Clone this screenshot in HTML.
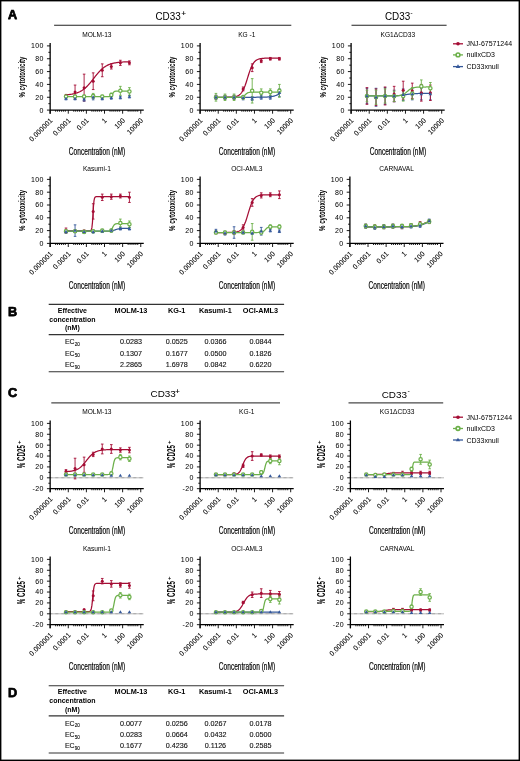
<!DOCTYPE html>
<html><head><meta charset="utf-8"><style>
html,body{margin:0;padding:0;background:#fff;width:520px;height:761px;overflow:hidden}
svg{display:block;will-change:transform}
text{font-family:"Liberation Sans",sans-serif}
</style></head><body>
<svg width="520" height="761" viewBox="0 0 520 761">
<rect x="0" y="0" width="520" height="761" fill="#fff"/>
<text transform="translate(96.85,37.2) scale(0.86,1)" font-size="7.7" text-anchor="middle" font-family="Liberation Sans, sans-serif">MOLM-13</text>
<text transform="translate(25.05,77) rotate(-90)" x="0" y="0" font-size="9.1" font-weight="bold" text-anchor="middle" textLength="41" lengthAdjust="spacingAndGlyphs" font-family="Liberation Sans, sans-serif">% cytotoxicity</text>
<path d="M50.15,42.9V113.7M49.55,110.1H143.75" stroke="#000" stroke-width="1.3" fill="none"/>
<text x="43.95" y="112.5" font-size="7" letter-spacing="0.45" text-anchor="end" stroke="#000" stroke-width="0.03" font-family="Liberation Sans, sans-serif">0</text>
<text x="43.95" y="99.66" font-size="7" letter-spacing="0.45" text-anchor="end" stroke="#000" stroke-width="0.03" font-family="Liberation Sans, sans-serif">20</text>
<text x="43.95" y="86.82" font-size="7" letter-spacing="0.45" text-anchor="end" stroke="#000" stroke-width="0.03" font-family="Liberation Sans, sans-serif">40</text>
<text x="43.95" y="73.98" font-size="7" letter-spacing="0.45" text-anchor="end" stroke="#000" stroke-width="0.03" font-family="Liberation Sans, sans-serif">60</text>
<text x="43.95" y="61.14" font-size="7" letter-spacing="0.45" text-anchor="end" stroke="#000" stroke-width="0.03" font-family="Liberation Sans, sans-serif">80</text>
<text x="43.95" y="48.3" font-size="7" letter-spacing="0.45" text-anchor="end" stroke="#000" stroke-width="0.03" font-family="Liberation Sans, sans-serif">100</text>
<path d="M46.95,110.1H50.15M48.35,103.68H50.15M46.95,97.26H50.15M48.35,90.84H50.15M46.95,84.42H50.15M48.35,78H50.15M46.95,71.58H50.15M48.35,65.16H50.15M46.95,58.74H50.15M48.35,52.32H50.15M46.95,45.9H50.15M50.15,110.1V113.7M55.65,110.1V111.7M57.58,110.1V111.7M59.51,110.1V111.7M61.44,110.1V111.7M63.37,110.1V111.7M65.3,110.1V111.7M68.27,110.1V113.7M73.77,110.1V111.7M75.7,110.1V111.7M77.63,110.1V111.7M79.56,110.1V111.7M81.49,110.1V111.7M83.42,110.1V111.7M86.39,110.1V113.7M91.89,110.1V111.7M93.82,110.1V111.7M95.75,110.1V111.7M97.68,110.1V111.7M99.61,110.1V111.7M101.54,110.1V111.7M104.51,110.1V113.7M110.01,110.1V111.7M111.94,110.1V111.7M113.87,110.1V111.7M115.8,110.1V111.7M117.73,110.1V111.7M119.66,110.1V111.7M122.63,110.1V113.7M128.13,110.1V111.7M130.06,110.1V111.7M131.99,110.1V111.7M133.92,110.1V111.7M135.85,110.1V111.7M137.78,110.1V111.7M140.75,110.1V113.7" stroke="#000" stroke-width="0.9" fill="none"/>
<text transform="translate(53.05,121) rotate(-45)" font-size="7.1" text-anchor="end" stroke="#000" stroke-width="0.05" font-family="Liberation Sans, sans-serif">0.000001</text>
<text transform="translate(71.17,121) rotate(-45)" font-size="7.1" text-anchor="end" stroke="#000" stroke-width="0.05" font-family="Liberation Sans, sans-serif">0.0001</text>
<text transform="translate(89.29,121) rotate(-45)" font-size="7.1" text-anchor="end" stroke="#000" stroke-width="0.05" font-family="Liberation Sans, sans-serif">0.01</text>
<text transform="translate(107.41,121) rotate(-45)" font-size="7.1" text-anchor="end" stroke="#000" stroke-width="0.05" font-family="Liberation Sans, sans-serif">1</text>
<text transform="translate(125.53,121) rotate(-45)" font-size="7.1" text-anchor="end" stroke="#000" stroke-width="0.05" font-family="Liberation Sans, sans-serif">100</text>
<text transform="translate(143.65,121) rotate(-45)" font-size="7.1" text-anchor="end" stroke="#000" stroke-width="0.05" font-family="Liberation Sans, sans-serif">10000</text>
<text x="97.05" y="155.4" font-size="10" text-anchor="middle" textLength="56.4" lengthAdjust="spacingAndGlyphs" stroke="#000" stroke-width="0.2" font-family="Liberation Sans, sans-serif">Concentration (nM)</text>
<polyline points="66,94.84 66.53,94.8 67.06,94.76 67.59,94.71 68.12,94.66 68.65,94.6 69.18,94.54 69.7,94.48 70.23,94.41 70.76,94.33 71.29,94.25 71.82,94.17 72.35,94.07 72.88,93.97 73.4,93.86 73.93,93.74 74.46,93.62 74.99,93.48 75.52,93.33 76.05,93.18 76.58,93.01 77.1,92.83 77.63,92.63 78.16,92.43 78.69,92.21 79.22,91.97 79.75,91.72 80.27,91.45 80.8,91.16 81.33,90.86 81.86,90.54 82.39,90.2 82.92,89.83 83.45,89.45 83.97,89.05 84.5,88.63 85.03,88.19 85.56,87.72 86.09,87.24 86.62,86.73 87.15,86.2 87.67,85.66 88.2,85.09 88.73,84.51 89.26,83.91 89.79,83.29 90.32,82.66 90.84,82.02 91.37,81.36 91.9,80.7 92.43,80.03 92.96,79.35 93.49,78.68 94.02,78 94.54,77.32 95.07,76.65 95.6,75.98 96.13,75.32 96.66,74.67 97.19,74.03 97.72,73.41 98.24,72.8 98.77,72.2 99.3,71.63 99.83,71.07 100.36,70.53 100.89,70.01 101.41,69.52 101.94,69.04 102.47,68.58 103,68.15 103.53,67.74 104.06,67.34 104.59,66.97 105.11,66.62 105.64,66.29 106.17,65.97 106.7,65.68 107.23,65.4 107.76,65.14 108.28,64.89 108.81,64.66 109.34,64.45 109.87,64.24 110.4,64.06 110.93,63.88 111.46,63.72 111.98,63.57 112.51,63.42 113.04,63.29 113.57,63.17 114.1,63.05 114.63,62.95 115.16,62.85 115.68,62.76 116.21,62.67 116.74,62.6 117.27,62.52 117.8,62.45 118.33,62.39 118.85,62.33 119.38,62.28 119.91,62.23 120.44,62.19 120.97,62.14 121.5,62.1 122.03,62.07 122.55,62.03 123.08,62 123.61,61.97 124.14,61.95 124.67,61.92 125.2,61.9 125.73,61.88 126.25,61.86 126.78,61.84 127.31,61.83 127.84,61.81 128.37,61.8 128.9,61.78 129.43,61.77" stroke="#a50d35" stroke-width="1.25" fill="none"/>
<path d="M75.06,85.06V99.19M73.77,85.06H76.36M73.77,99.19H76.36" stroke="#a50d35" stroke-width="0.9" fill="none"/>
<path d="M84.12,74.15V101.11M82.83,74.15H85.42M82.83,101.11H85.42" stroke="#a50d35" stroke-width="0.9" fill="none"/>
<path d="M93.19,72.86V89.56M91.89,72.86H94.48M91.89,89.56H94.48" stroke="#a50d35" stroke-width="0.9" fill="none"/>
<path d="M102.25,63.88V76.72M100.95,63.88H103.55M100.95,76.72H103.55" stroke="#a50d35" stroke-width="0.9" fill="none"/>
<path d="M111.31,63.88V69.01M110.01,63.88H112.61M110.01,69.01H112.61" stroke="#a50d35" stroke-width="0.9" fill="none"/>
<path d="M120.37,60.28V65.42M119.07,60.28H121.67M119.07,65.42H121.67" stroke="#a50d35" stroke-width="0.9" fill="none"/>
<path d="M129.43,60.92V64.77M128.12,60.92H130.73M128.12,64.77H130.73" stroke="#a50d35" stroke-width="0.9" fill="none"/>
<path d="M66,97.26V99.83M64.7,97.26H67.3M64.7,99.83H67.3" stroke="#35589a" stroke-width="0.9" fill="none"/>
<path d="M75.06,97.26V99.83M73.77,97.26H76.36M73.77,99.83H76.36" stroke="#35589a" stroke-width="0.9" fill="none"/>
<path d="M84.12,97.26V101.11M82.83,97.26H85.42M82.83,101.11H85.42" stroke="#35589a" stroke-width="0.9" fill="none"/>
<path d="M93.19,94.69V99.83M91.89,94.69H94.48M91.89,99.83H94.48" stroke="#35589a" stroke-width="0.9" fill="none"/>
<path d="M102.25,97.26V99.83M100.95,97.26H103.55M100.95,99.83H103.55" stroke="#35589a" stroke-width="0.9" fill="none"/>
<path d="M111.31,96.62V99.19M110.01,96.62H112.61M110.01,99.19H112.61" stroke="#35589a" stroke-width="0.9" fill="none"/>
<path d="M120.37,96.3V98.86M119.07,96.3H121.67M119.07,98.86H121.67" stroke="#35589a" stroke-width="0.9" fill="none"/>
<path d="M129.43,95.33V97.9M128.12,95.33H130.73M128.12,97.9H130.73" stroke="#35589a" stroke-width="0.9" fill="none"/>
<polyline points="66,96.62 66.53,96.62 67.06,96.62 67.59,96.62 68.12,96.62 68.65,96.62 69.18,96.62 69.7,96.62 70.23,96.62 70.76,96.62 71.29,96.62 71.82,96.62 72.35,96.62 72.88,96.62 73.4,96.62 73.93,96.62 74.46,96.62 74.99,96.62 75.52,96.62 76.05,96.62 76.58,96.62 77.1,96.62 77.63,96.62 78.16,96.62 78.69,96.62 79.22,96.62 79.75,96.62 80.27,96.62 80.8,96.62 81.33,96.62 81.86,96.62 82.39,96.62 82.92,96.62 83.45,96.62 83.97,96.62 84.5,96.62 85.03,96.62 85.56,96.62 86.09,96.62 86.62,96.62 87.15,96.62 87.67,96.62 88.2,96.62 88.73,96.62 89.26,96.62 89.79,96.62 90.32,96.62 90.84,96.62 91.37,96.62 91.9,96.62 92.43,96.62 92.96,96.62 93.49,96.62 94.02,96.62 94.54,96.62 95.07,96.62 95.6,96.62 96.13,96.62 96.66,96.62 97.19,96.62 97.72,96.62 98.24,96.62 98.77,96.62 99.3,96.62 99.83,96.62 100.36,96.62 100.89,96.62 101.41,96.62 101.94,96.62 102.47,96.62 103,96.62 103.53,96.62 104.06,96.62 104.59,96.62 105.11,96.62 105.64,96.62 106.17,96.62 106.7,96.62 107.23,96.62 107.76,96.61 108.28,96.61 108.81,96.6 109.34,96.58 109.87,96.54 110.4,96.45 110.93,96.26 111.46,95.87 111.98,95.19 112.51,94.2 113.04,93.13 113.57,92.26 114.1,91.71 114.63,91.42 115.16,91.28 115.68,91.22 116.21,91.19 116.74,91.17 117.27,91.17 117.8,91.16 118.33,91.16 118.85,91.16 119.38,91.16 119.91,91.16 120.44,91.16 120.97,91.16 121.5,91.16 122.03,91.16 122.55,91.16 123.08,91.16 123.61,91.16 124.14,91.16 124.67,91.16 125.2,91.16 125.73,91.16 126.25,91.16 126.78,91.16 127.31,91.16 127.84,91.16 128.37,91.16 128.9,91.16 129.43,91.16" stroke="#6cb04a" stroke-width="1.25" fill="none"/>
<path d="M66,95.33V97.9M64.7,95.33H67.3M64.7,97.9H67.3" stroke="#6cb04a" stroke-width="0.9" fill="none"/>
<path d="M75.06,95.33V97.9M73.77,95.33H76.36M73.77,97.9H76.36" stroke="#6cb04a" stroke-width="0.9" fill="none"/>
<path d="M84.12,95.33V97.9M82.83,95.33H85.42M82.83,97.9H85.42" stroke="#6cb04a" stroke-width="0.9" fill="none"/>
<path d="M93.19,93.41V98.54M91.89,93.41H94.48M91.89,98.54H94.48" stroke="#6cb04a" stroke-width="0.9" fill="none"/>
<path d="M102.25,95.33V97.9M100.95,95.33H103.55M100.95,97.9H103.55" stroke="#6cb04a" stroke-width="0.9" fill="none"/>
<path d="M111.31,93.09V96.94M110.01,93.09H112.61M110.01,96.94H112.61" stroke="#6cb04a" stroke-width="0.9" fill="none"/>
<path d="M120.37,86.35V95.33M119.07,86.35H121.67M119.07,95.33H121.67" stroke="#6cb04a" stroke-width="0.9" fill="none"/>
<path d="M129.43,87.63V95.33M128.12,87.63H130.73M128.12,95.33H130.73" stroke="#6cb04a" stroke-width="0.9" fill="none"/>
<circle cx="66" cy="95.33" r="1.5" fill="#a50d35"/>
<circle cx="75.06" cy="92.12" r="1.5" fill="#a50d35"/>
<circle cx="84.12" cy="87.63" r="1.5" fill="#a50d35"/>
<circle cx="93.19" cy="81.21" r="1.5" fill="#a50d35"/>
<circle cx="102.25" cy="70.3" r="1.5" fill="#a50d35"/>
<circle cx="111.31" cy="66.44" r="1.5" fill="#a50d35"/>
<circle cx="120.37" cy="62.85" r="1.5" fill="#a50d35"/>
<circle cx="129.43" cy="62.85" r="1.5" fill="#a50d35"/>
<circle cx="66" cy="96.62" r="1.65" fill="#fff" stroke="#6cb04a" stroke-width="1.25"/>
<circle cx="75.06" cy="96.62" r="1.65" fill="#fff" stroke="#6cb04a" stroke-width="1.25"/>
<circle cx="84.12" cy="96.62" r="1.65" fill="#fff" stroke="#6cb04a" stroke-width="1.25"/>
<circle cx="93.19" cy="95.98" r="1.65" fill="#fff" stroke="#6cb04a" stroke-width="1.25"/>
<circle cx="102.25" cy="96.62" r="1.65" fill="#fff" stroke="#6cb04a" stroke-width="1.25"/>
<circle cx="111.31" cy="95.01" r="1.65" fill="#fff" stroke="#6cb04a" stroke-width="1.25"/>
<circle cx="120.37" cy="90.84" r="1.65" fill="#fff" stroke="#6cb04a" stroke-width="1.25"/>
<circle cx="129.43" cy="91.48" r="1.65" fill="#fff" stroke="#6cb04a" stroke-width="1.25"/>
<path d="M66,96.64L67.8,99.74H64.2Z" fill="#35589a"/>
<path d="M75.06,96.64L76.86,99.74H73.27Z" fill="#35589a"/>
<path d="M84.12,97.29L85.92,100.39H82.33Z" fill="#35589a"/>
<path d="M93.19,95.36L94.98,98.46H91.39Z" fill="#35589a"/>
<path d="M102.25,96.64L104.05,99.74H100.45Z" fill="#35589a"/>
<path d="M111.31,96L113.11,99.1H109.51Z" fill="#35589a"/>
<path d="M120.37,95.68L122.17,98.78H118.57Z" fill="#35589a"/>
<path d="M129.43,94.72L131.23,97.82H127.63Z" fill="#35589a"/>
<text transform="translate(246.8,37.2) scale(0.86,1)" font-size="7.7" text-anchor="middle" font-family="Liberation Sans, sans-serif">KG -1</text>
<text transform="translate(175,77) rotate(-90)" x="0" y="0" font-size="9.1" font-weight="bold" text-anchor="middle" textLength="41" lengthAdjust="spacingAndGlyphs" font-family="Liberation Sans, sans-serif">% cytotoxicity</text>
<path d="M200.1,42.9V113.7M199.5,110.1H293.7" stroke="#000" stroke-width="1.3" fill="none"/>
<text x="193.9" y="112.5" font-size="7" letter-spacing="0.45" text-anchor="end" stroke="#000" stroke-width="0.03" font-family="Liberation Sans, sans-serif">0</text>
<text x="193.9" y="99.66" font-size="7" letter-spacing="0.45" text-anchor="end" stroke="#000" stroke-width="0.03" font-family="Liberation Sans, sans-serif">20</text>
<text x="193.9" y="86.82" font-size="7" letter-spacing="0.45" text-anchor="end" stroke="#000" stroke-width="0.03" font-family="Liberation Sans, sans-serif">40</text>
<text x="193.9" y="73.98" font-size="7" letter-spacing="0.45" text-anchor="end" stroke="#000" stroke-width="0.03" font-family="Liberation Sans, sans-serif">60</text>
<text x="193.9" y="61.14" font-size="7" letter-spacing="0.45" text-anchor="end" stroke="#000" stroke-width="0.03" font-family="Liberation Sans, sans-serif">80</text>
<text x="193.9" y="48.3" font-size="7" letter-spacing="0.45" text-anchor="end" stroke="#000" stroke-width="0.03" font-family="Liberation Sans, sans-serif">100</text>
<path d="M196.9,110.1H200.1M198.3,103.68H200.1M196.9,97.26H200.1M198.3,90.84H200.1M196.9,84.42H200.1M198.3,78H200.1M196.9,71.58H200.1M198.3,65.16H200.1M196.9,58.74H200.1M198.3,52.32H200.1M196.9,45.9H200.1M200.1,110.1V113.7M205.6,110.1V111.7M207.53,110.1V111.7M209.46,110.1V111.7M211.39,110.1V111.7M213.32,110.1V111.7M215.25,110.1V111.7M218.22,110.1V113.7M223.72,110.1V111.7M225.65,110.1V111.7M227.58,110.1V111.7M229.51,110.1V111.7M231.44,110.1V111.7M233.37,110.1V111.7M236.34,110.1V113.7M241.84,110.1V111.7M243.77,110.1V111.7M245.7,110.1V111.7M247.63,110.1V111.7M249.56,110.1V111.7M251.49,110.1V111.7M254.46,110.1V113.7M259.96,110.1V111.7M261.89,110.1V111.7M263.82,110.1V111.7M265.75,110.1V111.7M267.68,110.1V111.7M269.61,110.1V111.7M272.58,110.1V113.7M278.08,110.1V111.7M280.01,110.1V111.7M281.94,110.1V111.7M283.87,110.1V111.7M285.8,110.1V111.7M287.73,110.1V111.7M290.7,110.1V113.7" stroke="#000" stroke-width="0.9" fill="none"/>
<text transform="translate(203,121) rotate(-45)" font-size="7.1" text-anchor="end" stroke="#000" stroke-width="0.05" font-family="Liberation Sans, sans-serif">0.000001</text>
<text transform="translate(221.12,121) rotate(-45)" font-size="7.1" text-anchor="end" stroke="#000" stroke-width="0.05" font-family="Liberation Sans, sans-serif">0.0001</text>
<text transform="translate(239.24,121) rotate(-45)" font-size="7.1" text-anchor="end" stroke="#000" stroke-width="0.05" font-family="Liberation Sans, sans-serif">0.01</text>
<text transform="translate(257.36,121) rotate(-45)" font-size="7.1" text-anchor="end" stroke="#000" stroke-width="0.05" font-family="Liberation Sans, sans-serif">1</text>
<text transform="translate(275.48,121) rotate(-45)" font-size="7.1" text-anchor="end" stroke="#000" stroke-width="0.05" font-family="Liberation Sans, sans-serif">100</text>
<text transform="translate(293.6,121) rotate(-45)" font-size="7.1" text-anchor="end" stroke="#000" stroke-width="0.05" font-family="Liberation Sans, sans-serif">10000</text>
<text x="247" y="155.4" font-size="10" text-anchor="middle" textLength="56.4" lengthAdjust="spacingAndGlyphs" stroke="#000" stroke-width="0.2" font-family="Liberation Sans, sans-serif">Concentration (nM)</text>
<polyline points="215.95,97.26 216.48,97.26 217.01,97.26 217.54,97.26 218.07,97.26 218.6,97.26 219.13,97.26 219.65,97.26 220.18,97.26 220.71,97.25 221.24,97.25 221.77,97.25 222.3,97.25 222.83,97.25 223.35,97.25 223.88,97.24 224.41,97.24 224.94,97.24 225.47,97.23 226,97.23 226.53,97.22 227.05,97.22 227.58,97.21 228.11,97.2 228.64,97.19 229.17,97.17 229.7,97.16 230.22,97.14 230.75,97.11 231.28,97.09 231.81,97.05 232.34,97.01 232.87,96.97 233.4,96.91 233.92,96.85 234.45,96.77 234.98,96.68 235.51,96.57 236.04,96.44 236.57,96.28 237.09,96.1 237.62,95.89 238.15,95.64 238.68,95.35 239.21,95 239.74,94.6 240.27,94.13 240.79,93.59 241.32,92.97 241.85,92.26 242.38,91.44 242.91,90.52 243.44,89.49 243.97,88.35 244.49,87.09 245.02,85.72 245.55,84.25 246.08,82.69 246.61,81.06 247.14,79.38 247.66,77.68 248.19,75.97 248.72,74.29 249.25,72.66 249.78,71.11 250.31,69.64 250.84,68.27 251.36,67.01 251.89,65.86 252.42,64.83 252.95,63.91 253.48,63.1 254.01,62.39 254.54,61.77 255.06,61.22 255.59,60.76 256.12,60.36 256.65,60.01 257.18,59.72 257.71,59.47 258.24,59.25 258.76,59.07 259.29,58.92 259.82,58.79 260.35,58.68 260.88,58.59 261.41,58.51 261.93,58.45 262.46,58.39 262.99,58.34 263.52,58.3 264.05,58.27 264.58,58.24 265.11,58.22 265.63,58.2 266.16,58.18 266.69,58.17 267.22,58.16 267.75,58.15 268.28,58.14 268.81,58.13 269.33,58.13 269.86,58.12 270.39,58.12 270.92,58.12 271.45,58.11 271.98,58.11 272.5,58.11 273.03,58.11 273.56,58.11 274.09,58.1 274.62,58.1 275.15,58.1 275.68,58.1 276.2,58.1 276.73,58.1 277.26,58.1 277.79,58.1 278.32,58.1 278.85,58.1 279.38,58.1" stroke="#a50d35" stroke-width="1.25" fill="none"/>
<path d="M215.95,95.33V99.19M214.65,95.33H217.25M214.65,99.19H217.25" stroke="#a50d35" stroke-width="0.9" fill="none"/>
<path d="M225.01,95.33V99.19M223.71,95.33H226.31M223.71,99.19H226.31" stroke="#a50d35" stroke-width="0.9" fill="none"/>
<path d="M234.07,95.33V99.19M232.77,95.33H235.38M232.77,99.19H235.38" stroke="#a50d35" stroke-width="0.9" fill="none"/>
<path d="M243.13,86.99V90.84M241.83,86.99H244.44M241.83,90.84H244.44" stroke="#a50d35" stroke-width="0.9" fill="none"/>
<path d="M252.19,63.88V71.58M250.89,63.88H253.5M250.89,71.58H253.5" stroke="#a50d35" stroke-width="0.9" fill="none"/>
<path d="M261.25,58.74V62.59M259.95,58.74H262.56M259.95,62.59H262.56" stroke="#a50d35" stroke-width="0.9" fill="none"/>
<path d="M270.31,57.46V60.02M269.01,57.46H271.62M269.01,60.02H271.62" stroke="#a50d35" stroke-width="0.9" fill="none"/>
<path d="M279.38,57.46V60.02M278.07,57.46H280.68M278.07,60.02H280.68" stroke="#a50d35" stroke-width="0.9" fill="none"/>
<polyline points="215.95,97.26 216.48,97.26 217.01,97.26 217.54,97.26 218.07,97.26 218.6,97.26 219.13,97.26 219.65,97.26 220.18,97.26 220.71,97.26 221.24,97.26 221.77,97.26 222.3,97.26 222.83,97.26 223.35,97.26 223.88,97.26 224.41,97.26 224.94,97.26 225.47,97.26 226,97.26 226.53,97.26 227.05,97.26 227.58,97.26 228.11,97.26 228.64,97.26 229.17,97.26 229.7,97.26 230.22,97.26 230.75,97.26 231.28,97.26 231.81,97.26 232.34,97.26 232.87,97.26 233.4,97.26 233.92,97.26 234.45,97.26 234.98,97.26 235.51,97.26 236.04,97.26 236.57,97.26 237.09,97.26 237.62,97.26 238.15,97.26 238.68,97.26 239.21,97.26 239.74,97.26 240.27,97.26 240.79,97.26 241.32,97.26 241.85,97.26 242.38,97.26 242.91,97.26 243.44,97.26 243.97,97.26 244.49,97.26 245.02,97.26 245.55,97.26 246.08,97.26 246.61,97.26 247.14,97.26 247.66,97.26 248.19,97.26 248.72,97.26 249.25,97.26 249.78,97.26 250.31,97.26 250.84,97.26 251.36,97.26 251.89,97.25 252.42,97.25 252.95,97.25 253.48,97.25 254.01,97.25 254.54,97.25 255.06,97.25 255.59,97.25 256.12,97.25 256.65,97.24 257.18,97.24 257.71,97.24 258.24,97.23 258.76,97.23 259.29,97.23 259.82,97.22 260.35,97.22 260.88,97.21 261.41,97.2 261.93,97.2 262.46,97.19 262.99,97.18 263.52,97.16 264.05,97.15 264.58,97.14 265.11,97.12 265.63,97.1 266.16,97.08 266.69,97.05 267.22,97.02 267.75,96.99 268.28,96.95 268.81,96.9 269.33,96.86 269.86,96.8 270.39,96.74 270.92,96.67 271.45,96.59 271.98,96.5 272.5,96.4 273.03,96.29 273.56,96.16 274.09,96.03 274.62,95.88 275.15,95.71 275.68,95.53 276.2,95.33 276.73,95.11 277.26,94.88 277.79,94.63 278.32,94.36 278.85,94.09 279.38,93.79" stroke="#35589a" stroke-width="1.25" fill="none"/>
<path d="M215.95,95.33V99.19M214.65,95.33H217.25M214.65,99.19H217.25" stroke="#35589a" stroke-width="0.9" fill="none"/>
<path d="M225.01,95.33V99.19M223.71,95.33H226.31M223.71,99.19H226.31" stroke="#35589a" stroke-width="0.9" fill="none"/>
<path d="M234.07,95.33V99.19M232.77,95.33H235.38M232.77,99.19H235.38" stroke="#35589a" stroke-width="0.9" fill="none"/>
<path d="M243.13,95.98V99.83M241.83,95.98H244.44M241.83,99.83H244.44" stroke="#35589a" stroke-width="0.9" fill="none"/>
<path d="M252.19,96.62V100.47M250.89,96.62H253.5M250.89,100.47H253.5" stroke="#35589a" stroke-width="0.9" fill="none"/>
<path d="M261.25,95.33V99.19M259.95,95.33H262.56M259.95,99.19H262.56" stroke="#35589a" stroke-width="0.9" fill="none"/>
<path d="M270.31,95.33V99.19M269.01,95.33H271.62M269.01,99.19H271.62" stroke="#35589a" stroke-width="0.9" fill="none"/>
<path d="M279.38,88.91V96.62M278.07,88.91H280.68M278.07,96.62H280.68" stroke="#35589a" stroke-width="0.9" fill="none"/>
<polyline points="215.95,97.26 216.48,97.26 217.01,97.26 217.54,97.26 218.07,97.26 218.6,97.26 219.13,97.26 219.65,97.26 220.18,97.26 220.71,97.26 221.24,97.26 221.77,97.26 222.3,97.26 222.83,97.26 223.35,97.26 223.88,97.26 224.41,97.26 224.94,97.26 225.47,97.26 226,97.26 226.53,97.26 227.05,97.26 227.58,97.26 228.11,97.26 228.64,97.26 229.17,97.26 229.7,97.26 230.22,97.26 230.75,97.26 231.28,97.26 231.81,97.26 232.34,97.26 232.87,97.26 233.4,97.26 233.92,97.26 234.45,97.26 234.98,97.26 235.51,97.26 236.04,97.26 236.57,97.25 237.09,97.25 237.62,97.25 238.15,97.24 238.68,97.23 239.21,97.21 239.74,97.19 240.27,97.16 240.79,97.11 241.32,97.04 241.85,96.94 242.38,96.79 242.91,96.59 243.44,96.32 243.97,95.97 244.49,95.55 245.02,95.06 245.55,94.54 246.08,94.04 246.61,93.59 247.14,93.2 247.66,92.9 248.19,92.67 248.72,92.5 249.25,92.38 249.78,92.3 250.31,92.24 250.84,92.2 251.36,92.18 251.89,92.16 252.42,92.15 252.95,92.14 253.48,92.13 254.01,92.13 254.54,92.13 255.06,92.13 255.59,92.13 256.12,92.13 256.65,92.12 257.18,92.12 257.71,92.12 258.24,92.12 258.76,92.12 259.29,92.12 259.82,92.12 260.35,92.12 260.88,92.12 261.41,92.12 261.93,92.12 262.46,92.12 262.99,92.12 263.52,92.12 264.05,92.12 264.58,92.12 265.11,92.12 265.63,92.12 266.16,92.12 266.69,92.12 267.22,92.12 267.75,92.12 268.28,92.12 268.81,92.12 269.33,92.12 269.86,92.12 270.39,92.12 270.92,92.12 271.45,92.12 271.98,92.12 272.5,92.12 273.03,92.12 273.56,92.12 274.09,92.12 274.62,92.12 275.15,92.12 275.68,92.12 276.2,92.12 276.73,92.12 277.26,92.12 277.79,92.12 278.32,92.12 278.85,92.12 279.38,92.12" stroke="#6cb04a" stroke-width="1.25" fill="none"/>
<path d="M215.95,93.41V101.11M214.65,93.41H217.25M214.65,101.11H217.25" stroke="#6cb04a" stroke-width="0.9" fill="none"/>
<path d="M225.01,94.05V100.47M223.71,94.05H226.31M223.71,100.47H226.31" stroke="#6cb04a" stroke-width="0.9" fill="none"/>
<path d="M234.07,94.05V100.47M232.77,94.05H235.38M232.77,100.47H235.38" stroke="#6cb04a" stroke-width="0.9" fill="none"/>
<path d="M243.13,95.33V99.19M241.83,95.33H244.44M241.83,99.19H244.44" stroke="#6cb04a" stroke-width="0.9" fill="none"/>
<path d="M252.19,78.64V103.04M250.89,78.64H253.5M250.89,103.04H253.5" stroke="#6cb04a" stroke-width="0.9" fill="none"/>
<path d="M261.25,88.91V96.62M259.95,88.91H262.56M259.95,96.62H262.56" stroke="#6cb04a" stroke-width="0.9" fill="none"/>
<path d="M270.31,88.91V95.33M269.01,88.91H271.62M269.01,95.33H271.62" stroke="#6cb04a" stroke-width="0.9" fill="none"/>
<path d="M279.38,84.42V97.26M278.07,84.42H280.68M278.07,97.26H280.68" stroke="#6cb04a" stroke-width="0.9" fill="none"/>
<circle cx="215.95" cy="97.26" r="1.5" fill="#a50d35"/>
<circle cx="225.01" cy="97.26" r="1.5" fill="#a50d35"/>
<circle cx="234.07" cy="97.26" r="1.5" fill="#a50d35"/>
<circle cx="243.13" cy="88.91" r="1.5" fill="#a50d35"/>
<circle cx="252.19" cy="67.73" r="1.5" fill="#a50d35"/>
<circle cx="261.25" cy="60.67" r="1.5" fill="#a50d35"/>
<circle cx="270.31" cy="58.74" r="1.5" fill="#a50d35"/>
<circle cx="279.38" cy="58.74" r="1.5" fill="#a50d35"/>
<circle cx="215.95" cy="97.26" r="1.65" fill="#fff" stroke="#6cb04a" stroke-width="1.25"/>
<circle cx="225.01" cy="97.26" r="1.65" fill="#fff" stroke="#6cb04a" stroke-width="1.25"/>
<circle cx="234.07" cy="97.26" r="1.65" fill="#fff" stroke="#6cb04a" stroke-width="1.25"/>
<circle cx="243.13" cy="97.26" r="1.65" fill="#fff" stroke="#6cb04a" stroke-width="1.25"/>
<circle cx="252.19" cy="90.84" r="1.65" fill="#fff" stroke="#6cb04a" stroke-width="1.25"/>
<circle cx="261.25" cy="92.77" r="1.65" fill="#fff" stroke="#6cb04a" stroke-width="1.25"/>
<circle cx="270.31" cy="92.12" r="1.65" fill="#fff" stroke="#6cb04a" stroke-width="1.25"/>
<circle cx="279.38" cy="90.84" r="1.65" fill="#fff" stroke="#6cb04a" stroke-width="1.25"/>
<path d="M215.95,95.36L217.75,98.46H214.15Z" fill="#35589a"/>
<path d="M225.01,95.36L226.81,98.46H223.21Z" fill="#35589a"/>
<path d="M234.07,95.36L235.88,98.46H232.27Z" fill="#35589a"/>
<path d="M243.13,96L244.94,99.1H241.33Z" fill="#35589a"/>
<path d="M252.19,96.64L254,99.74H250.39Z" fill="#35589a"/>
<path d="M261.25,95.36L263.06,98.46H259.45Z" fill="#35589a"/>
<path d="M270.31,95.36L272.12,98.46H268.51Z" fill="#35589a"/>
<path d="M279.38,90.87L281.18,93.97H277.57Z" fill="#35589a"/>
<text transform="translate(397.8,37.2) scale(0.86,1)" font-size="7.7" text-anchor="middle" font-family="Liberation Sans, sans-serif">KG1ΔCD33</text>
<text transform="translate(326,77) rotate(-90)" x="0" y="0" font-size="9.1" font-weight="bold" text-anchor="middle" textLength="41" lengthAdjust="spacingAndGlyphs" font-family="Liberation Sans, sans-serif">% cytotoxicity</text>
<path d="M351.1,42.9V113.7M350.5,110.1H444.7" stroke="#000" stroke-width="1.3" fill="none"/>
<text x="344.9" y="112.5" font-size="7" letter-spacing="0.45" text-anchor="end" stroke="#000" stroke-width="0.03" font-family="Liberation Sans, sans-serif">0</text>
<text x="344.9" y="99.66" font-size="7" letter-spacing="0.45" text-anchor="end" stroke="#000" stroke-width="0.03" font-family="Liberation Sans, sans-serif">20</text>
<text x="344.9" y="86.82" font-size="7" letter-spacing="0.45" text-anchor="end" stroke="#000" stroke-width="0.03" font-family="Liberation Sans, sans-serif">40</text>
<text x="344.9" y="73.98" font-size="7" letter-spacing="0.45" text-anchor="end" stroke="#000" stroke-width="0.03" font-family="Liberation Sans, sans-serif">60</text>
<text x="344.9" y="61.14" font-size="7" letter-spacing="0.45" text-anchor="end" stroke="#000" stroke-width="0.03" font-family="Liberation Sans, sans-serif">80</text>
<text x="344.9" y="48.3" font-size="7" letter-spacing="0.45" text-anchor="end" stroke="#000" stroke-width="0.03" font-family="Liberation Sans, sans-serif">100</text>
<path d="M347.9,110.1H351.1M349.3,103.68H351.1M347.9,97.26H351.1M349.3,90.84H351.1M347.9,84.42H351.1M349.3,78H351.1M347.9,71.58H351.1M349.3,65.16H351.1M347.9,58.74H351.1M349.3,52.32H351.1M347.9,45.9H351.1M351.1,110.1V113.7M356.6,110.1V111.7M358.53,110.1V111.7M360.46,110.1V111.7M362.39,110.1V111.7M364.32,110.1V111.7M366.25,110.1V111.7M369.22,110.1V113.7M374.72,110.1V111.7M376.65,110.1V111.7M378.58,110.1V111.7M380.51,110.1V111.7M382.44,110.1V111.7M384.37,110.1V111.7M387.34,110.1V113.7M392.84,110.1V111.7M394.77,110.1V111.7M396.7,110.1V111.7M398.63,110.1V111.7M400.56,110.1V111.7M402.49,110.1V111.7M405.46,110.1V113.7M410.96,110.1V111.7M412.89,110.1V111.7M414.82,110.1V111.7M416.75,110.1V111.7M418.68,110.1V111.7M420.61,110.1V111.7M423.58,110.1V113.7M429.08,110.1V111.7M431.01,110.1V111.7M432.94,110.1V111.7M434.87,110.1V111.7M436.8,110.1V111.7M438.73,110.1V111.7M441.7,110.1V113.7" stroke="#000" stroke-width="0.9" fill="none"/>
<text transform="translate(354,121) rotate(-45)" font-size="7.1" text-anchor="end" stroke="#000" stroke-width="0.05" font-family="Liberation Sans, sans-serif">0.000001</text>
<text transform="translate(372.12,121) rotate(-45)" font-size="7.1" text-anchor="end" stroke="#000" stroke-width="0.05" font-family="Liberation Sans, sans-serif">0.0001</text>
<text transform="translate(390.24,121) rotate(-45)" font-size="7.1" text-anchor="end" stroke="#000" stroke-width="0.05" font-family="Liberation Sans, sans-serif">0.01</text>
<text transform="translate(408.36,121) rotate(-45)" font-size="7.1" text-anchor="end" stroke="#000" stroke-width="0.05" font-family="Liberation Sans, sans-serif">1</text>
<text transform="translate(426.48,121) rotate(-45)" font-size="7.1" text-anchor="end" stroke="#000" stroke-width="0.05" font-family="Liberation Sans, sans-serif">100</text>
<text transform="translate(444.6,121) rotate(-45)" font-size="7.1" text-anchor="end" stroke="#000" stroke-width="0.05" font-family="Liberation Sans, sans-serif">10000</text>
<text x="398" y="155.4" font-size="10" text-anchor="middle" textLength="56.4" lengthAdjust="spacingAndGlyphs" stroke="#000" stroke-width="0.2" font-family="Liberation Sans, sans-serif">Concentration (nM)</text>
<polyline points="366.96,95.98 367.48,95.98 368.01,95.98 368.54,95.98 369.07,95.98 369.6,95.98 370.13,95.98 370.65,95.98 371.18,95.98 371.71,95.98 372.24,95.98 372.77,95.98 373.3,95.98 373.83,95.98 374.35,95.98 374.88,95.97 375.41,95.97 375.94,95.97 376.47,95.97 377,95.97 377.53,95.97 378.05,95.97 378.58,95.97 379.11,95.97 379.64,95.97 380.17,95.97 380.7,95.97 381.22,95.97 381.75,95.97 382.28,95.97 382.81,95.97 383.34,95.97 383.87,95.97 384.4,95.96 384.92,95.96 385.45,95.96 385.98,95.96 386.51,95.96 387.04,95.95 387.57,95.95 388.1,95.95 388.62,95.94 389.15,95.94 389.68,95.93 390.21,95.92 390.74,95.92 391.27,95.91 391.79,95.9 392.32,95.89 392.85,95.88 393.38,95.86 393.91,95.85 394.44,95.83 394.97,95.81 395.49,95.79 396.02,95.76 396.55,95.73 397.08,95.7 397.61,95.67 398.14,95.63 398.67,95.59 399.19,95.54 399.72,95.49 400.25,95.44 400.78,95.38 401.31,95.31 401.84,95.24 402.36,95.17 402.89,95.1 403.42,95.02 403.95,94.94 404.48,94.85 405.01,94.77 405.54,94.68 406.06,94.59 406.59,94.51 407.12,94.42 407.65,94.34 408.18,94.27 408.71,94.19 409.24,94.12 409.76,94.05 410.29,93.99 410.82,93.93 411.35,93.88 411.88,93.83 412.41,93.78 412.93,93.74 413.46,93.71 413.99,93.67 414.52,93.64 415.05,93.61 415.58,93.59 416.11,93.57 416.63,93.55 417.16,93.53 417.69,93.52 418.22,93.5 418.75,93.49 419.28,93.48 419.81,93.47 420.33,93.47 420.86,93.46 421.39,93.45 421.92,93.45 422.45,93.44 422.98,93.44 423.5,93.43 424.03,93.43 424.56,93.43 425.09,93.43 425.62,93.42 426.15,93.42 426.68,93.42 427.2,93.42 427.73,93.42 428.26,93.42 428.79,93.41 429.32,93.41 429.85,93.41 430.38,93.41" stroke="#35589a" stroke-width="1.25" fill="none"/>
<path d="M366.96,88.27V103.68M365.66,88.27H368.26M365.66,103.68H368.26" stroke="#35589a" stroke-width="0.9" fill="none"/>
<path d="M376.02,88.27V106.25M374.72,88.27H377.32M374.72,106.25H377.32" stroke="#35589a" stroke-width="0.9" fill="none"/>
<path d="M385.08,87.63V104.32M383.78,87.63H386.38M383.78,104.32H386.38" stroke="#35589a" stroke-width="0.9" fill="none"/>
<path d="M394.14,90.2V101.75M392.84,90.2H395.44M392.84,101.75H395.44" stroke="#35589a" stroke-width="0.9" fill="none"/>
<path d="M403.2,88.91V100.47M401.9,88.91H404.5M401.9,100.47H404.5" stroke="#35589a" stroke-width="0.9" fill="none"/>
<path d="M412.25,88.27V99.83M410.95,88.27H413.56M410.95,99.83H413.56" stroke="#35589a" stroke-width="0.9" fill="none"/>
<path d="M421.32,88.27V99.83M420.02,88.27H422.62M420.02,99.83H422.62" stroke="#35589a" stroke-width="0.9" fill="none"/>
<path d="M430.38,88.27V99.83M429.07,88.27H431.68M429.07,99.83H431.68" stroke="#35589a" stroke-width="0.9" fill="none"/>
<path d="M366.96,87.63V104.32M365.66,87.63H368.26M365.66,104.32H368.26" stroke="#a50d35" stroke-width="0.9" fill="none"/>
<path d="M376.02,88.91V105.61M374.72,88.91H377.32M374.72,105.61H377.32" stroke="#a50d35" stroke-width="0.9" fill="none"/>
<path d="M385.08,86.99V104.96M383.78,86.99H386.38M383.78,104.96H386.38" stroke="#a50d35" stroke-width="0.9" fill="none"/>
<path d="M394.14,86.35V101.75M392.84,86.35H395.44M392.84,101.75H395.44" stroke="#a50d35" stroke-width="0.9" fill="none"/>
<path d="M403.2,81.21V99.19M401.9,81.21H404.5M401.9,99.19H404.5" stroke="#a50d35" stroke-width="0.9" fill="none"/>
<path d="M412.25,83.14V98.54M410.95,83.14H413.56M410.95,98.54H413.56" stroke="#a50d35" stroke-width="0.9" fill="none"/>
<path d="M421.32,84.42V101.11M420.02,84.42H422.62M420.02,101.11H422.62" stroke="#a50d35" stroke-width="0.9" fill="none"/>
<path d="M430.38,85.06V100.47M429.07,85.06H431.68M429.07,100.47H431.68" stroke="#a50d35" stroke-width="0.9" fill="none"/>
<polyline points="366.96,95.98 367.48,95.98 368.01,95.98 368.54,95.98 369.07,95.98 369.6,95.98 370.13,95.98 370.65,95.98 371.18,95.98 371.71,95.98 372.24,95.98 372.77,95.98 373.3,95.98 373.83,95.98 374.35,95.98 374.88,95.98 375.41,95.98 375.94,95.98 376.47,95.98 377,95.98 377.53,95.98 378.05,95.98 378.58,95.98 379.11,95.98 379.64,95.98 380.17,95.98 380.7,95.98 381.22,95.98 381.75,95.98 382.28,95.98 382.81,95.98 383.34,95.98 383.87,95.97 384.4,95.97 384.92,95.97 385.45,95.97 385.98,95.97 386.51,95.97 387.04,95.97 387.57,95.97 388.1,95.97 388.62,95.97 389.15,95.97 389.68,95.97 390.21,95.96 390.74,95.96 391.27,95.96 391.79,95.95 392.32,95.95 392.85,95.94 393.38,95.93 393.91,95.92 394.44,95.91 394.97,95.89 395.49,95.88 396.02,95.85 396.55,95.83 397.08,95.8 397.61,95.76 398.14,95.71 398.67,95.65 399.19,95.58 399.72,95.5 400.25,95.4 400.78,95.28 401.31,95.14 401.84,94.97 402.36,94.78 402.89,94.55 403.42,94.29 403.95,94 404.48,93.67 405.01,93.31 405.54,92.92 406.06,92.5 406.59,92.06 407.12,91.61 407.65,91.16 408.18,90.71 408.71,90.28 409.24,89.87 409.76,89.49 410.29,89.15 410.82,88.83 411.35,88.56 411.88,88.31 412.41,88.1 412.93,87.92 413.46,87.76 413.99,87.63 414.52,87.52 415.05,87.43 415.58,87.35 416.11,87.29 416.63,87.23 417.16,87.19 417.69,87.15 418.22,87.12 418.75,87.1 419.28,87.08 419.81,87.06 420.33,87.05 420.86,87.04 421.39,87.03 421.92,87.02 422.45,87.02 422.98,87.01 423.5,87.01 424.03,87 424.56,87 425.09,87 425.62,87 426.15,86.99 426.68,86.99 427.2,86.99 427.73,86.99 428.26,86.99 428.79,86.99 429.32,86.99 429.85,86.99 430.38,86.99" stroke="#6cb04a" stroke-width="1.25" fill="none"/>
<path d="M366.96,90.2V101.75M365.66,90.2H368.26M365.66,101.75H368.26" stroke="#6cb04a" stroke-width="0.9" fill="none"/>
<path d="M376.02,90.2V104.32M374.72,90.2H377.32M374.72,104.32H377.32" stroke="#6cb04a" stroke-width="0.9" fill="none"/>
<path d="M385.08,88.91V103.04M383.78,88.91H386.38M383.78,103.04H386.38" stroke="#6cb04a" stroke-width="0.9" fill="none"/>
<path d="M394.14,91.16V101.43M392.84,91.16H395.44M392.84,101.43H395.44" stroke="#6cb04a" stroke-width="0.9" fill="none"/>
<path d="M403.2,90.84V101.11M401.9,90.84H404.5M401.9,101.11H404.5" stroke="#6cb04a" stroke-width="0.9" fill="none"/>
<path d="M412.25,87.63V99.19M410.95,87.63H413.56M410.95,99.19H413.56" stroke="#6cb04a" stroke-width="0.9" fill="none"/>
<path d="M421.32,79.93V92.77M420.02,79.93H422.62M420.02,92.77H422.62" stroke="#6cb04a" stroke-width="0.9" fill="none"/>
<path d="M430.38,82.49V94.05M429.07,82.49H431.68M429.07,94.05H431.68" stroke="#6cb04a" stroke-width="0.9" fill="none"/>
<circle cx="366.96" cy="95.98" r="1.5" fill="#a50d35"/>
<circle cx="376.02" cy="97.26" r="1.5" fill="#a50d35"/>
<circle cx="385.08" cy="95.98" r="1.5" fill="#a50d35"/>
<circle cx="394.14" cy="94.05" r="1.5" fill="#a50d35"/>
<circle cx="403.2" cy="90.2" r="1.5" fill="#a50d35"/>
<circle cx="412.25" cy="90.84" r="1.5" fill="#a50d35"/>
<circle cx="421.32" cy="92.77" r="1.5" fill="#a50d35"/>
<circle cx="430.38" cy="92.77" r="1.5" fill="#a50d35"/>
<circle cx="366.96" cy="95.98" r="1.65" fill="#fff" stroke="#6cb04a" stroke-width="1.25"/>
<circle cx="376.02" cy="97.26" r="1.65" fill="#fff" stroke="#6cb04a" stroke-width="1.25"/>
<circle cx="385.08" cy="95.98" r="1.65" fill="#fff" stroke="#6cb04a" stroke-width="1.25"/>
<circle cx="394.14" cy="96.3" r="1.65" fill="#fff" stroke="#6cb04a" stroke-width="1.25"/>
<circle cx="403.2" cy="95.98" r="1.65" fill="#fff" stroke="#6cb04a" stroke-width="1.25"/>
<circle cx="412.25" cy="93.41" r="1.65" fill="#fff" stroke="#6cb04a" stroke-width="1.25"/>
<circle cx="421.32" cy="86.35" r="1.65" fill="#fff" stroke="#6cb04a" stroke-width="1.25"/>
<circle cx="430.38" cy="88.27" r="1.65" fill="#fff" stroke="#6cb04a" stroke-width="1.25"/>
<path d="M366.96,94.08L368.76,97.18H365.16Z" fill="#35589a"/>
<path d="M376.02,95.36L377.82,98.46H374.22Z" fill="#35589a"/>
<path d="M385.08,94.08L386.88,97.18H383.28Z" fill="#35589a"/>
<path d="M394.14,94.08L395.94,97.18H392.34Z" fill="#35589a"/>
<path d="M403.2,92.79L405,95.89H401.4Z" fill="#35589a"/>
<path d="M412.25,92.15L414.06,95.25H410.45Z" fill="#35589a"/>
<path d="M421.32,92.15L423.12,95.25H419.52Z" fill="#35589a"/>
<path d="M430.38,92.15L432.18,95.25H428.57Z" fill="#35589a"/>
<text transform="translate(96.85,170.6) scale(0.86,1)" font-size="7.7" text-anchor="middle" font-family="Liberation Sans, sans-serif">Kasumi-1</text>
<text transform="translate(25.05,210.4) rotate(-90)" x="0" y="0" font-size="9.1" font-weight="bold" text-anchor="middle" textLength="41" lengthAdjust="spacingAndGlyphs" font-family="Liberation Sans, sans-serif">% cytotoxicity</text>
<path d="M50.15,176.4V247M49.55,243.4H143.75" stroke="#000" stroke-width="1.3" fill="none"/>
<text x="43.95" y="245.8" font-size="7" letter-spacing="0.45" text-anchor="end" stroke="#000" stroke-width="0.03" font-family="Liberation Sans, sans-serif">0</text>
<text x="43.95" y="233" font-size="7" letter-spacing="0.45" text-anchor="end" stroke="#000" stroke-width="0.03" font-family="Liberation Sans, sans-serif">20</text>
<text x="43.95" y="220.2" font-size="7" letter-spacing="0.45" text-anchor="end" stroke="#000" stroke-width="0.03" font-family="Liberation Sans, sans-serif">40</text>
<text x="43.95" y="207.4" font-size="7" letter-spacing="0.45" text-anchor="end" stroke="#000" stroke-width="0.03" font-family="Liberation Sans, sans-serif">60</text>
<text x="43.95" y="194.6" font-size="7" letter-spacing="0.45" text-anchor="end" stroke="#000" stroke-width="0.03" font-family="Liberation Sans, sans-serif">80</text>
<text x="43.95" y="181.8" font-size="7" letter-spacing="0.45" text-anchor="end" stroke="#000" stroke-width="0.03" font-family="Liberation Sans, sans-serif">100</text>
<path d="M46.95,243.4H50.15M48.35,237H50.15M46.95,230.6H50.15M48.35,224.2H50.15M46.95,217.8H50.15M48.35,211.4H50.15M46.95,205H50.15M48.35,198.6H50.15M46.95,192.2H50.15M48.35,185.8H50.15M46.95,179.4H50.15M50.15,243.4V247M55.65,243.4V245M57.58,243.4V245M59.51,243.4V245M61.44,243.4V245M63.37,243.4V245M65.3,243.4V245M68.27,243.4V247M73.77,243.4V245M75.7,243.4V245M77.63,243.4V245M79.56,243.4V245M81.49,243.4V245M83.42,243.4V245M86.39,243.4V247M91.89,243.4V245M93.82,243.4V245M95.75,243.4V245M97.68,243.4V245M99.61,243.4V245M101.54,243.4V245M104.51,243.4V247M110.01,243.4V245M111.94,243.4V245M113.87,243.4V245M115.8,243.4V245M117.73,243.4V245M119.66,243.4V245M122.63,243.4V247M128.13,243.4V245M130.06,243.4V245M131.99,243.4V245M133.92,243.4V245M135.85,243.4V245M137.78,243.4V245M140.75,243.4V247" stroke="#000" stroke-width="0.9" fill="none"/>
<text transform="translate(53.05,254.3) rotate(-45)" font-size="7.1" text-anchor="end" stroke="#000" stroke-width="0.05" font-family="Liberation Sans, sans-serif">0.000001</text>
<text transform="translate(71.17,254.3) rotate(-45)" font-size="7.1" text-anchor="end" stroke="#000" stroke-width="0.05" font-family="Liberation Sans, sans-serif">0.0001</text>
<text transform="translate(89.29,254.3) rotate(-45)" font-size="7.1" text-anchor="end" stroke="#000" stroke-width="0.05" font-family="Liberation Sans, sans-serif">0.01</text>
<text transform="translate(107.41,254.3) rotate(-45)" font-size="7.1" text-anchor="end" stroke="#000" stroke-width="0.05" font-family="Liberation Sans, sans-serif">1</text>
<text transform="translate(125.53,254.3) rotate(-45)" font-size="7.1" text-anchor="end" stroke="#000" stroke-width="0.05" font-family="Liberation Sans, sans-serif">100</text>
<text transform="translate(143.65,254.3) rotate(-45)" font-size="7.1" text-anchor="end" stroke="#000" stroke-width="0.05" font-family="Liberation Sans, sans-serif">10000</text>
<text x="97.05" y="288.7" font-size="10" text-anchor="middle" textLength="56.4" lengthAdjust="spacingAndGlyphs" stroke="#000" stroke-width="0.2" font-family="Liberation Sans, sans-serif">Concentration (nM)</text>
<polyline points="66,230.92 66.53,230.92 67.06,230.92 67.59,230.92 68.12,230.92 68.65,230.92 69.18,230.92 69.7,230.92 70.23,230.92 70.76,230.92 71.29,230.92 71.82,230.92 72.35,230.92 72.88,230.92 73.4,230.92 73.93,230.92 74.46,230.92 74.99,230.92 75.52,230.92 76.05,230.92 76.58,230.92 77.1,230.92 77.63,230.92 78.16,230.92 78.69,230.92 79.22,230.92 79.75,230.92 80.27,230.92 80.8,230.92 81.33,230.92 81.86,230.92 82.39,230.92 82.92,230.92 83.45,230.92 83.97,230.92 84.5,230.92 85.03,230.92 85.56,230.92 86.09,230.92 86.62,230.92 87.15,230.92 87.67,230.92 88.2,230.92 88.73,230.91 89.26,230.9 89.79,230.87 90.32,230.78 90.84,230.5 91.37,229.72 91.9,227.63 92.43,222.79 92.96,214.59 93.49,206.01 94.02,200.56 94.54,198.11 95.07,197.18 95.6,196.85 96.13,196.74 96.66,196.7 97.19,196.69 97.72,196.68 98.24,196.68 98.77,196.68 99.3,196.68 99.83,196.68 100.36,196.68 100.89,196.68 101.41,196.68 101.94,196.68 102.47,196.68 103,196.68 103.53,196.68 104.06,196.68 104.59,196.68 105.11,196.68 105.64,196.68 106.17,196.68 106.7,196.68 107.23,196.68 107.76,196.68 108.28,196.68 108.81,196.68 109.34,196.68 109.87,196.68 110.4,196.68 110.93,196.68 111.46,196.68 111.98,196.68 112.51,196.68 113.04,196.68 113.57,196.68 114.1,196.68 114.63,196.68 115.16,196.68 115.68,196.68 116.21,196.68 116.74,196.68 117.27,196.68 117.8,196.68 118.33,196.68 118.85,196.68 119.38,196.68 119.91,196.68 120.44,196.68 120.97,196.68 121.5,196.68 122.03,196.68 122.55,196.68 123.08,196.68 123.61,196.68 124.14,196.68 124.67,196.68 125.2,196.68 125.73,196.68 126.25,196.68 126.78,196.68 127.31,196.68 127.84,196.68 128.37,196.68 128.9,196.68 129.43,196.68" stroke="#a50d35" stroke-width="1.25" fill="none"/>
<path d="M66,228.04V233.16M64.7,228.04H67.3M64.7,233.16H67.3" stroke="#a50d35" stroke-width="0.9" fill="none"/>
<path d="M75.06,229.96V232.52M73.77,229.96H76.36M73.77,232.52H76.36" stroke="#a50d35" stroke-width="0.9" fill="none"/>
<path d="M84.12,229.96V232.52M82.83,229.96H85.42M82.83,232.52H85.42" stroke="#a50d35" stroke-width="0.9" fill="none"/>
<path d="M93.19,203.72V219.08M91.89,203.72H94.48M91.89,219.08H94.48" stroke="#a50d35" stroke-width="0.9" fill="none"/>
<path d="M102.25,194.12V200.52M100.95,194.12H103.55M100.95,200.52H103.55" stroke="#a50d35" stroke-width="0.9" fill="none"/>
<path d="M111.31,194.12V199.24M110.01,194.12H112.61M110.01,199.24H112.61" stroke="#a50d35" stroke-width="0.9" fill="none"/>
<path d="M120.37,194.12V197.96M119.07,194.12H121.67M119.07,197.96H121.67" stroke="#a50d35" stroke-width="0.9" fill="none"/>
<path d="M129.43,192.2V202.44M128.12,192.2H130.73M128.12,202.44H130.73" stroke="#a50d35" stroke-width="0.9" fill="none"/>
<polyline points="66,231.24 66.53,231.24 67.06,231.24 67.59,231.24 68.12,231.24 68.65,231.24 69.18,231.24 69.7,231.24 70.23,231.24 70.76,231.24 71.29,231.24 71.82,231.24 72.35,231.24 72.88,231.24 73.4,231.24 73.93,231.24 74.46,231.24 74.99,231.24 75.52,231.24 76.05,231.24 76.58,231.24 77.1,231.24 77.63,231.24 78.16,231.24 78.69,231.24 79.22,231.24 79.75,231.24 80.27,231.24 80.8,231.24 81.33,231.24 81.86,231.24 82.39,231.24 82.92,231.24 83.45,231.24 83.97,231.24 84.5,231.24 85.03,231.24 85.56,231.24 86.09,231.24 86.62,231.24 87.15,231.24 87.67,231.24 88.2,231.24 88.73,231.24 89.26,231.24 89.79,231.24 90.32,231.24 90.84,231.24 91.37,231.24 91.9,231.24 92.43,231.24 92.96,231.24 93.49,231.24 94.02,231.24 94.54,231.24 95.07,231.24 95.6,231.24 96.13,231.24 96.66,231.24 97.19,231.24 97.72,231.24 98.24,231.24 98.77,231.24 99.3,231.24 99.83,231.24 100.36,231.24 100.89,231.24 101.41,231.24 101.94,231.24 102.47,231.24 103,231.23 103.53,231.23 104.06,231.23 104.59,231.23 105.11,231.22 105.64,231.22 106.17,231.21 106.7,231.21 107.23,231.2 107.76,231.18 108.28,231.16 108.81,231.14 109.34,231.11 109.87,231.08 110.4,231.03 110.93,230.97 111.46,230.9 111.98,230.81 112.51,230.7 113.04,230.57 113.57,230.42 114.1,230.25 114.63,230.07 115.16,229.88 115.68,229.69 116.21,229.5 116.74,229.32 117.27,229.16 117.8,229.01 118.33,228.89 118.85,228.78 119.38,228.69 119.91,228.62 120.44,228.56 120.97,228.52 121.5,228.48 122.03,228.46 122.55,228.43 123.08,228.42 123.61,228.4 124.14,228.39 124.67,228.39 125.2,228.38 125.73,228.37 126.25,228.37 126.78,228.37 127.31,228.37 127.84,228.37 128.37,228.36 128.9,228.36 129.43,228.36" stroke="#35589a" stroke-width="1.25" fill="none"/>
<path d="M66,230.6V233.16M64.7,230.6H67.3M64.7,233.16H67.3" stroke="#35589a" stroke-width="0.9" fill="none"/>
<path d="M75.06,224.84V236.36M73.77,224.84H76.36M73.77,236.36H76.36" stroke="#35589a" stroke-width="0.9" fill="none"/>
<path d="M84.12,230.6V233.16M82.83,230.6H85.42M82.83,233.16H85.42" stroke="#35589a" stroke-width="0.9" fill="none"/>
<path d="M93.19,230.6V233.16M91.89,230.6H94.48M91.89,233.16H94.48" stroke="#35589a" stroke-width="0.9" fill="none"/>
<path d="M102.25,229.96V232.52M100.95,229.96H103.55M100.95,232.52H103.55" stroke="#35589a" stroke-width="0.9" fill="none"/>
<path d="M111.31,229.32V231.88M110.01,229.32H112.61M110.01,231.88H112.61" stroke="#35589a" stroke-width="0.9" fill="none"/>
<path d="M120.37,227.4V229.96M119.07,227.4H121.67M119.07,229.96H121.67" stroke="#35589a" stroke-width="0.9" fill="none"/>
<path d="M129.43,227.4V229.96M128.12,227.4H130.73M128.12,229.96H130.73" stroke="#35589a" stroke-width="0.9" fill="none"/>
<polyline points="66,231.24 66.53,231.24 67.06,231.24 67.59,231.24 68.12,231.24 68.65,231.24 69.18,231.24 69.7,231.24 70.23,231.24 70.76,231.24 71.29,231.24 71.82,231.24 72.35,231.24 72.88,231.24 73.4,231.24 73.93,231.24 74.46,231.24 74.99,231.24 75.52,231.24 76.05,231.24 76.58,231.24 77.1,231.24 77.63,231.24 78.16,231.24 78.69,231.24 79.22,231.24 79.75,231.24 80.27,231.24 80.8,231.24 81.33,231.24 81.86,231.24 82.39,231.24 82.92,231.24 83.45,231.24 83.97,231.24 84.5,231.24 85.03,231.24 85.56,231.24 86.09,231.24 86.62,231.24 87.15,231.24 87.67,231.24 88.2,231.24 88.73,231.24 89.26,231.24 89.79,231.24 90.32,231.24 90.84,231.24 91.37,231.24 91.9,231.24 92.43,231.24 92.96,231.24 93.49,231.24 94.02,231.24 94.54,231.24 95.07,231.24 95.6,231.24 96.13,231.24 96.66,231.24 97.19,231.24 97.72,231.24 98.24,231.24 98.77,231.24 99.3,231.24 99.83,231.24 100.36,231.24 100.89,231.24 101.41,231.24 101.94,231.24 102.47,231.24 103,231.24 103.53,231.24 104.06,231.24 104.59,231.24 105.11,231.24 105.64,231.23 106.17,231.23 106.7,231.22 107.23,231.21 107.76,231.19 108.28,231.15 108.81,231.09 109.34,230.99 109.87,230.82 110.4,230.54 110.93,230.12 111.46,229.5 111.98,228.68 112.51,227.69 113.04,226.67 113.57,225.75 114.1,225.01 114.63,224.48 115.16,224.13 115.68,223.9 116.21,223.76 116.74,223.68 117.27,223.63 117.8,223.6 118.33,223.58 118.85,223.57 119.38,223.57 119.91,223.56 120.44,223.56 120.97,223.56 121.5,223.56 122.03,223.56 122.55,223.56 123.08,223.56 123.61,223.56 124.14,223.56 124.67,223.56 125.2,223.56 125.73,223.56 126.25,223.56 126.78,223.56 127.31,223.56 127.84,223.56 128.37,223.56 128.9,223.56 129.43,223.56" stroke="#6cb04a" stroke-width="1.25" fill="none"/>
<path d="M66,229.96V232.52M64.7,229.96H67.3M64.7,232.52H67.3" stroke="#6cb04a" stroke-width="0.9" fill="none"/>
<path d="M75.06,229.96V232.52M73.77,229.96H76.36M73.77,232.52H76.36" stroke="#6cb04a" stroke-width="0.9" fill="none"/>
<path d="M84.12,230.6V233.16M82.83,230.6H85.42M82.83,233.16H85.42" stroke="#6cb04a" stroke-width="0.9" fill="none"/>
<path d="M93.19,229.96V232.52M91.89,229.96H94.48M91.89,232.52H94.48" stroke="#6cb04a" stroke-width="0.9" fill="none"/>
<path d="M102.25,229.32V231.88M100.95,229.32H103.55M100.95,231.88H103.55" stroke="#6cb04a" stroke-width="0.9" fill="none"/>
<path d="M111.31,229.32V231.88M110.01,229.32H112.61M110.01,231.88H112.61" stroke="#6cb04a" stroke-width="0.9" fill="none"/>
<path d="M120.37,219.08V226.76M119.07,219.08H121.67M119.07,226.76H121.67" stroke="#6cb04a" stroke-width="0.9" fill="none"/>
<path d="M129.43,221V227.4M128.12,221H130.73M128.12,227.4H130.73" stroke="#6cb04a" stroke-width="0.9" fill="none"/>
<circle cx="66" cy="230.6" r="1.5" fill="#a50d35"/>
<circle cx="75.06" cy="231.24" r="1.5" fill="#a50d35"/>
<circle cx="84.12" cy="231.24" r="1.5" fill="#a50d35"/>
<circle cx="93.19" cy="211.4" r="1.5" fill="#a50d35"/>
<circle cx="102.25" cy="197.32" r="1.5" fill="#a50d35"/>
<circle cx="111.31" cy="196.68" r="1.5" fill="#a50d35"/>
<circle cx="120.37" cy="196.04" r="1.5" fill="#a50d35"/>
<circle cx="129.43" cy="197.32" r="1.5" fill="#a50d35"/>
<circle cx="66" cy="231.24" r="1.65" fill="#fff" stroke="#6cb04a" stroke-width="1.25"/>
<circle cx="75.06" cy="231.24" r="1.65" fill="#fff" stroke="#6cb04a" stroke-width="1.25"/>
<circle cx="84.12" cy="231.88" r="1.65" fill="#fff" stroke="#6cb04a" stroke-width="1.25"/>
<circle cx="93.19" cy="231.24" r="1.65" fill="#fff" stroke="#6cb04a" stroke-width="1.25"/>
<circle cx="102.25" cy="230.6" r="1.65" fill="#fff" stroke="#6cb04a" stroke-width="1.25"/>
<circle cx="111.31" cy="230.6" r="1.65" fill="#fff" stroke="#6cb04a" stroke-width="1.25"/>
<circle cx="120.37" cy="222.92" r="1.65" fill="#fff" stroke="#6cb04a" stroke-width="1.25"/>
<circle cx="129.43" cy="224.2" r="1.65" fill="#fff" stroke="#6cb04a" stroke-width="1.25"/>
<path d="M66,229.98L67.8,233.08H64.2Z" fill="#35589a"/>
<path d="M75.06,228.7L76.86,231.8H73.27Z" fill="#35589a"/>
<path d="M84.12,229.98L85.92,233.08H82.33Z" fill="#35589a"/>
<path d="M93.19,229.98L94.98,233.08H91.39Z" fill="#35589a"/>
<path d="M102.25,229.34L104.05,232.44H100.45Z" fill="#35589a"/>
<path d="M111.31,228.7L113.11,231.8H109.51Z" fill="#35589a"/>
<path d="M120.37,226.78L122.17,229.88H118.57Z" fill="#35589a"/>
<path d="M129.43,226.78L131.23,229.88H127.63Z" fill="#35589a"/>
<text transform="translate(246.8,170.6) scale(0.86,1)" font-size="7.7" text-anchor="middle" font-family="Liberation Sans, sans-serif">OCI-AML3</text>
<text transform="translate(175,210.4) rotate(-90)" x="0" y="0" font-size="9.1" font-weight="bold" text-anchor="middle" textLength="41" lengthAdjust="spacingAndGlyphs" font-family="Liberation Sans, sans-serif">% cytotoxicity</text>
<path d="M200.1,176.4V247M199.5,243.4H293.7" stroke="#000" stroke-width="1.3" fill="none"/>
<text x="193.9" y="245.8" font-size="7" letter-spacing="0.45" text-anchor="end" stroke="#000" stroke-width="0.03" font-family="Liberation Sans, sans-serif">0</text>
<text x="193.9" y="233" font-size="7" letter-spacing="0.45" text-anchor="end" stroke="#000" stroke-width="0.03" font-family="Liberation Sans, sans-serif">20</text>
<text x="193.9" y="220.2" font-size="7" letter-spacing="0.45" text-anchor="end" stroke="#000" stroke-width="0.03" font-family="Liberation Sans, sans-serif">40</text>
<text x="193.9" y="207.4" font-size="7" letter-spacing="0.45" text-anchor="end" stroke="#000" stroke-width="0.03" font-family="Liberation Sans, sans-serif">60</text>
<text x="193.9" y="194.6" font-size="7" letter-spacing="0.45" text-anchor="end" stroke="#000" stroke-width="0.03" font-family="Liberation Sans, sans-serif">80</text>
<text x="193.9" y="181.8" font-size="7" letter-spacing="0.45" text-anchor="end" stroke="#000" stroke-width="0.03" font-family="Liberation Sans, sans-serif">100</text>
<path d="M196.9,243.4H200.1M198.3,237H200.1M196.9,230.6H200.1M198.3,224.2H200.1M196.9,217.8H200.1M198.3,211.4H200.1M196.9,205H200.1M198.3,198.6H200.1M196.9,192.2H200.1M198.3,185.8H200.1M196.9,179.4H200.1M200.1,243.4V247M205.6,243.4V245M207.53,243.4V245M209.46,243.4V245M211.39,243.4V245M213.32,243.4V245M215.25,243.4V245M218.22,243.4V247M223.72,243.4V245M225.65,243.4V245M227.58,243.4V245M229.51,243.4V245M231.44,243.4V245M233.37,243.4V245M236.34,243.4V247M241.84,243.4V245M243.77,243.4V245M245.7,243.4V245M247.63,243.4V245M249.56,243.4V245M251.49,243.4V245M254.46,243.4V247M259.96,243.4V245M261.89,243.4V245M263.82,243.4V245M265.75,243.4V245M267.68,243.4V245M269.61,243.4V245M272.58,243.4V247M278.08,243.4V245M280.01,243.4V245M281.94,243.4V245M283.87,243.4V245M285.8,243.4V245M287.73,243.4V245M290.7,243.4V247" stroke="#000" stroke-width="0.9" fill="none"/>
<text transform="translate(203,254.3) rotate(-45)" font-size="7.1" text-anchor="end" stroke="#000" stroke-width="0.05" font-family="Liberation Sans, sans-serif">0.000001</text>
<text transform="translate(221.12,254.3) rotate(-45)" font-size="7.1" text-anchor="end" stroke="#000" stroke-width="0.05" font-family="Liberation Sans, sans-serif">0.0001</text>
<text transform="translate(239.24,254.3) rotate(-45)" font-size="7.1" text-anchor="end" stroke="#000" stroke-width="0.05" font-family="Liberation Sans, sans-serif">0.01</text>
<text transform="translate(257.36,254.3) rotate(-45)" font-size="7.1" text-anchor="end" stroke="#000" stroke-width="0.05" font-family="Liberation Sans, sans-serif">1</text>
<text transform="translate(275.48,254.3) rotate(-45)" font-size="7.1" text-anchor="end" stroke="#000" stroke-width="0.05" font-family="Liberation Sans, sans-serif">100</text>
<text transform="translate(293.6,254.3) rotate(-45)" font-size="7.1" text-anchor="end" stroke="#000" stroke-width="0.05" font-family="Liberation Sans, sans-serif">10000</text>
<text x="247" y="288.7" font-size="10" text-anchor="middle" textLength="56.4" lengthAdjust="spacingAndGlyphs" stroke="#000" stroke-width="0.2" font-family="Liberation Sans, sans-serif">Concentration (nM)</text>
<polyline points="215.95,232.52 216.48,232.52 217.01,232.52 217.54,232.52 218.07,232.52 218.6,232.52 219.13,232.52 219.65,232.52 220.18,232.52 220.71,232.52 221.24,232.52 221.77,232.52 222.3,232.52 222.83,232.52 223.35,232.51 223.88,232.51 224.41,232.51 224.94,232.51 225.47,232.51 226,232.51 226.53,232.5 227.05,232.5 227.58,232.49 228.11,232.49 228.64,232.48 229.17,232.48 229.7,232.47 230.22,232.46 230.75,232.44 231.28,232.43 231.81,232.41 232.34,232.38 232.87,232.35 233.4,232.32 233.92,232.28 234.45,232.23 234.98,232.17 235.51,232.1 236.04,232.01 236.57,231.91 237.09,231.79 237.62,231.64 238.15,231.46 238.68,231.25 239.21,231 239.74,230.7 240.27,230.34 240.79,229.92 241.32,229.43 241.85,228.85 242.38,228.18 242.91,227.41 243.44,226.52 243.97,225.5 244.49,224.37 245.02,223.1 245.55,221.71 246.08,220.2 246.61,218.59 247.14,216.9 247.66,215.16 248.19,213.39 248.72,211.62 249.25,209.89 249.78,208.22 250.31,206.64 250.84,205.16 251.36,203.81 251.89,202.58 252.42,201.47 252.95,200.5 253.48,199.64 254.01,198.9 254.54,198.25 255.06,197.7 255.59,197.23 256.12,196.83 256.65,196.49 257.18,196.21 257.71,195.97 258.24,195.76 258.76,195.6 259.29,195.46 259.82,195.34 260.35,195.24 260.88,195.16 261.41,195.09 261.93,195.03 262.46,194.99 262.99,194.95 263.52,194.92 264.05,194.89 264.58,194.87 265.11,194.85 265.63,194.83 266.16,194.82 266.69,194.81 267.22,194.8 267.75,194.79 268.28,194.79 268.81,194.78 269.33,194.78 269.86,194.78 270.39,194.77 270.92,194.77 271.45,194.77 271.98,194.77 272.5,194.77 273.03,194.77 273.56,194.76 274.09,194.76 274.62,194.76 275.15,194.76 275.68,194.76 276.2,194.76 276.73,194.76 277.26,194.76 277.79,194.76 278.32,194.76 278.85,194.76 279.38,194.76" stroke="#a50d35" stroke-width="1.25" fill="none"/>
<path d="M215.95,231.24V233.8M214.65,231.24H217.25M214.65,233.8H217.25" stroke="#a50d35" stroke-width="0.9" fill="none"/>
<path d="M225.01,231.88V234.44M223.71,231.88H226.31M223.71,234.44H226.31" stroke="#a50d35" stroke-width="0.9" fill="none"/>
<path d="M234.07,230.6V234.44M232.77,230.6H235.38M232.77,234.44H235.38" stroke="#a50d35" stroke-width="0.9" fill="none"/>
<path d="M243.13,224.84V229.96M241.83,224.84H244.44M241.83,229.96H244.44" stroke="#a50d35" stroke-width="0.9" fill="none"/>
<path d="M252.19,198.6V206.28M250.89,198.6H253.5M250.89,206.28H253.5" stroke="#a50d35" stroke-width="0.9" fill="none"/>
<path d="M261.25,192.84V197.96M259.95,192.84H262.56M259.95,197.96H262.56" stroke="#a50d35" stroke-width="0.9" fill="none"/>
<path d="M270.31,192.84V196.68M269.01,192.84H271.62M269.01,196.68H271.62" stroke="#a50d35" stroke-width="0.9" fill="none"/>
<path d="M279.38,190.92V198.6M278.07,190.92H280.68M278.07,198.6H280.68" stroke="#a50d35" stroke-width="0.9" fill="none"/>
<path d="M215.95,229.32V233.16M214.65,229.32H217.25M214.65,233.16H217.25" stroke="#35589a" stroke-width="0.9" fill="none"/>
<path d="M225.01,231.24V235.08M223.71,231.24H226.31M223.71,235.08H226.31" stroke="#35589a" stroke-width="0.9" fill="none"/>
<path d="M234.07,226.76V238.28M232.77,226.76H235.38M232.77,238.28H235.38" stroke="#35589a" stroke-width="0.9" fill="none"/>
<path d="M243.13,231.24V233.8M241.83,231.24H244.44M241.83,233.8H244.44" stroke="#35589a" stroke-width="0.9" fill="none"/>
<path d="M252.19,231.88V234.44M250.89,231.88H253.5M250.89,234.44H253.5" stroke="#35589a" stroke-width="0.9" fill="none"/>
<path d="M261.25,227.4V235.08M259.95,227.4H262.56M259.95,235.08H262.56" stroke="#35589a" stroke-width="0.9" fill="none"/>
<path d="M270.31,229.32V231.88M269.01,229.32H271.62M269.01,231.88H271.62" stroke="#35589a" stroke-width="0.9" fill="none"/>
<path d="M279.38,229.96V232.52M278.07,229.96H280.68M278.07,232.52H280.68" stroke="#35589a" stroke-width="0.9" fill="none"/>
<polyline points="215.95,232.52 216.48,232.52 217.01,232.52 217.54,232.52 218.07,232.52 218.6,232.52 219.13,232.52 219.65,232.52 220.18,232.52 220.71,232.52 221.24,232.52 221.77,232.52 222.3,232.52 222.83,232.52 223.35,232.52 223.88,232.52 224.41,232.52 224.94,232.52 225.47,232.52 226,232.52 226.53,232.52 227.05,232.52 227.58,232.52 228.11,232.52 228.64,232.52 229.17,232.52 229.7,232.52 230.22,232.52 230.75,232.52 231.28,232.52 231.81,232.52 232.34,232.52 232.87,232.52 233.4,232.52 233.92,232.52 234.45,232.52 234.98,232.52 235.51,232.52 236.04,232.52 236.57,232.52 237.09,232.52 237.62,232.52 238.15,232.52 238.68,232.52 239.21,232.52 239.74,232.52 240.27,232.52 240.79,232.52 241.32,232.52 241.85,232.52 242.38,232.52 242.91,232.52 243.44,232.52 243.97,232.52 244.49,232.52 245.02,232.52 245.55,232.52 246.08,232.52 246.61,232.52 247.14,232.52 247.66,232.52 248.19,232.52 248.72,232.52 249.25,232.52 249.78,232.52 250.31,232.52 250.84,232.52 251.36,232.52 251.89,232.52 252.42,232.52 252.95,232.52 253.48,232.52 254.01,232.52 254.54,232.52 255.06,232.52 255.59,232.52 256.12,232.51 256.65,232.51 257.18,232.51 257.71,232.5 258.24,232.49 258.76,232.48 259.29,232.46 259.82,232.44 260.35,232.39 260.88,232.33 261.41,232.25 261.93,232.12 262.46,231.94 262.99,231.69 263.52,231.36 264.05,230.95 264.58,230.45 265.11,229.89 265.63,229.31 266.16,228.76 266.69,228.27 267.22,227.86 267.75,227.55 268.28,227.31 268.81,227.14 269.33,227.02 269.86,226.94 270.39,226.88 270.92,226.84 271.45,226.81 271.98,226.8 272.5,226.78 273.03,226.78 273.56,226.77 274.09,226.77 274.62,226.76 275.15,226.76 275.68,226.76 276.2,226.76 276.73,226.76 277.26,226.76 277.79,226.76 278.32,226.76 278.85,226.76 279.38,226.76" stroke="#6cb04a" stroke-width="1.25" fill="none"/>
<path d="M215.95,231.24V233.8M214.65,231.24H217.25M214.65,233.8H217.25" stroke="#6cb04a" stroke-width="0.9" fill="none"/>
<path d="M225.01,231.24V233.8M223.71,231.24H226.31M223.71,233.8H226.31" stroke="#6cb04a" stroke-width="0.9" fill="none"/>
<path d="M234.07,231.24V233.8M232.77,231.24H235.38M232.77,233.8H235.38" stroke="#6cb04a" stroke-width="0.9" fill="none"/>
<path d="M243.13,231.24V233.8M241.83,231.24H244.44M241.83,233.8H244.44" stroke="#6cb04a" stroke-width="0.9" fill="none"/>
<path d="M252.19,223.56V240.2M250.89,223.56H253.5M250.89,240.2H253.5" stroke="#6cb04a" stroke-width="0.9" fill="none"/>
<path d="M261.25,231.24V233.8M259.95,231.24H262.56M259.95,233.8H262.56" stroke="#6cb04a" stroke-width="0.9" fill="none"/>
<path d="M270.31,224.84V228.68M269.01,224.84H271.62M269.01,228.68H271.62" stroke="#6cb04a" stroke-width="0.9" fill="none"/>
<path d="M279.38,224.84V228.68M278.07,224.84H280.68M278.07,228.68H280.68" stroke="#6cb04a" stroke-width="0.9" fill="none"/>
<circle cx="215.95" cy="232.52" r="1.5" fill="#a50d35"/>
<circle cx="225.01" cy="233.16" r="1.5" fill="#a50d35"/>
<circle cx="234.07" cy="232.52" r="1.5" fill="#a50d35"/>
<circle cx="243.13" cy="227.4" r="1.5" fill="#a50d35"/>
<circle cx="252.19" cy="202.44" r="1.5" fill="#a50d35"/>
<circle cx="261.25" cy="195.4" r="1.5" fill="#a50d35"/>
<circle cx="270.31" cy="194.76" r="1.5" fill="#a50d35"/>
<circle cx="279.38" cy="194.76" r="1.5" fill="#a50d35"/>
<circle cx="215.95" cy="232.52" r="1.65" fill="#fff" stroke="#6cb04a" stroke-width="1.25"/>
<circle cx="225.01" cy="232.52" r="1.65" fill="#fff" stroke="#6cb04a" stroke-width="1.25"/>
<circle cx="234.07" cy="232.52" r="1.65" fill="#fff" stroke="#6cb04a" stroke-width="1.25"/>
<circle cx="243.13" cy="232.52" r="1.65" fill="#fff" stroke="#6cb04a" stroke-width="1.25"/>
<circle cx="252.19" cy="231.88" r="1.65" fill="#fff" stroke="#6cb04a" stroke-width="1.25"/>
<circle cx="261.25" cy="232.52" r="1.65" fill="#fff" stroke="#6cb04a" stroke-width="1.25"/>
<circle cx="270.31" cy="226.76" r="1.65" fill="#fff" stroke="#6cb04a" stroke-width="1.25"/>
<circle cx="279.38" cy="226.76" r="1.65" fill="#fff" stroke="#6cb04a" stroke-width="1.25"/>
<path d="M215.95,229.34L217.75,232.44H214.15Z" fill="#35589a"/>
<path d="M225.01,231.26L226.81,234.36H223.21Z" fill="#35589a"/>
<path d="M234.07,230.62L235.88,233.72H232.27Z" fill="#35589a"/>
<path d="M243.13,230.62L244.94,233.72H241.33Z" fill="#35589a"/>
<path d="M252.19,231.26L254,234.36H250.39Z" fill="#35589a"/>
<path d="M261.25,229.34L263.06,232.44H259.45Z" fill="#35589a"/>
<path d="M270.31,228.7L272.12,231.8H268.51Z" fill="#35589a"/>
<path d="M279.38,229.34L281.18,232.44H277.57Z" fill="#35589a"/>
<text transform="translate(396.6,170.6) scale(0.86,1)" font-size="7.7" text-anchor="middle" font-family="Liberation Sans, sans-serif">CARNAVAL</text>
<text transform="translate(324.8,210.4) rotate(-90)" x="0" y="0" font-size="9.1" font-weight="bold" text-anchor="middle" textLength="41" lengthAdjust="spacingAndGlyphs" font-family="Liberation Sans, sans-serif">% cytotoxicity</text>
<path d="M349.9,176.4V247M349.3,243.4H443.5" stroke="#000" stroke-width="1.3" fill="none"/>
<text x="343.7" y="245.8" font-size="7" letter-spacing="0.45" text-anchor="end" stroke="#000" stroke-width="0.03" font-family="Liberation Sans, sans-serif">0</text>
<text x="343.7" y="233" font-size="7" letter-spacing="0.45" text-anchor="end" stroke="#000" stroke-width="0.03" font-family="Liberation Sans, sans-serif">20</text>
<text x="343.7" y="220.2" font-size="7" letter-spacing="0.45" text-anchor="end" stroke="#000" stroke-width="0.03" font-family="Liberation Sans, sans-serif">40</text>
<text x="343.7" y="207.4" font-size="7" letter-spacing="0.45" text-anchor="end" stroke="#000" stroke-width="0.03" font-family="Liberation Sans, sans-serif">60</text>
<text x="343.7" y="194.6" font-size="7" letter-spacing="0.45" text-anchor="end" stroke="#000" stroke-width="0.03" font-family="Liberation Sans, sans-serif">80</text>
<text x="343.7" y="181.8" font-size="7" letter-spacing="0.45" text-anchor="end" stroke="#000" stroke-width="0.03" font-family="Liberation Sans, sans-serif">100</text>
<path d="M346.7,243.4H349.9M348.1,237H349.9M346.7,230.6H349.9M348.1,224.2H349.9M346.7,217.8H349.9M348.1,211.4H349.9M346.7,205H349.9M348.1,198.6H349.9M346.7,192.2H349.9M348.1,185.8H349.9M346.7,179.4H349.9M349.9,243.4V247M355.4,243.4V245M357.33,243.4V245M359.26,243.4V245M361.19,243.4V245M363.12,243.4V245M365.05,243.4V245M368.02,243.4V247M373.52,243.4V245M375.45,243.4V245M377.38,243.4V245M379.31,243.4V245M381.24,243.4V245M383.17,243.4V245M386.14,243.4V247M391.64,243.4V245M393.57,243.4V245M395.5,243.4V245M397.43,243.4V245M399.36,243.4V245M401.29,243.4V245M404.26,243.4V247M409.76,243.4V245M411.69,243.4V245M413.62,243.4V245M415.55,243.4V245M417.48,243.4V245M419.41,243.4V245M422.38,243.4V247M427.88,243.4V245M429.81,243.4V245M431.74,243.4V245M433.67,243.4V245M435.6,243.4V245M437.53,243.4V245M440.5,243.4V247" stroke="#000" stroke-width="0.9" fill="none"/>
<text transform="translate(352.8,254.3) rotate(-45)" font-size="7.1" text-anchor="end" stroke="#000" stroke-width="0.05" font-family="Liberation Sans, sans-serif">0.000001</text>
<text transform="translate(370.92,254.3) rotate(-45)" font-size="7.1" text-anchor="end" stroke="#000" stroke-width="0.05" font-family="Liberation Sans, sans-serif">0.0001</text>
<text transform="translate(389.04,254.3) rotate(-45)" font-size="7.1" text-anchor="end" stroke="#000" stroke-width="0.05" font-family="Liberation Sans, sans-serif">0.01</text>
<text transform="translate(407.16,254.3) rotate(-45)" font-size="7.1" text-anchor="end" stroke="#000" stroke-width="0.05" font-family="Liberation Sans, sans-serif">1</text>
<text transform="translate(425.28,254.3) rotate(-45)" font-size="7.1" text-anchor="end" stroke="#000" stroke-width="0.05" font-family="Liberation Sans, sans-serif">100</text>
<text transform="translate(443.4,254.3) rotate(-45)" font-size="7.1" text-anchor="end" stroke="#000" stroke-width="0.05" font-family="Liberation Sans, sans-serif">10000</text>
<text x="396.8" y="288.7" font-size="10" text-anchor="middle" textLength="56.4" lengthAdjust="spacingAndGlyphs" stroke="#000" stroke-width="0.2" font-family="Liberation Sans, sans-serif">Concentration (nM)</text>
<polyline points="365.76,226.76 366.28,226.76 366.81,226.76 367.34,226.76 367.87,226.76 368.4,226.76 368.93,226.76 369.45,226.76 369.98,226.76 370.51,226.76 371.04,226.76 371.57,226.76 372.1,226.76 372.63,226.76 373.15,226.76 373.68,226.76 374.21,226.76 374.74,226.76 375.27,226.76 375.8,226.76 376.33,226.76 376.85,226.76 377.38,226.76 377.91,226.76 378.44,226.76 378.97,226.76 379.5,226.76 380.02,226.76 380.55,226.76 381.08,226.76 381.61,226.76 382.14,226.76 382.67,226.76 383.2,226.76 383.72,226.76 384.25,226.76 384.78,226.76 385.31,226.76 385.84,226.76 386.37,226.76 386.9,226.76 387.42,226.76 387.95,226.76 388.48,226.76 389.01,226.76 389.54,226.76 390.07,226.76 390.59,226.75 391.12,226.75 391.65,226.75 392.18,226.75 392.71,226.75 393.24,226.75 393.77,226.75 394.29,226.75 394.82,226.75 395.35,226.75 395.88,226.74 396.41,226.74 396.94,226.74 397.47,226.74 397.99,226.74 398.52,226.73 399.05,226.73 399.58,226.73 400.11,226.72 400.64,226.72 401.16,226.71 401.69,226.71 402.22,226.7 402.75,226.69 403.28,226.69 403.81,226.68 404.34,226.67 404.86,226.66 405.39,226.65 405.92,226.64 406.45,226.62 406.98,226.61 407.51,226.59 408.04,226.57 408.56,226.55 409.09,226.53 409.62,226.5 410.15,226.47 410.68,226.44 411.21,226.41 411.73,226.37 412.26,226.33 412.79,226.28 413.32,226.23 413.85,226.17 414.38,226.11 414.91,226.04 415.43,225.97 415.96,225.89 416.49,225.8 417.02,225.7 417.55,225.6 418.08,225.48 418.61,225.36 419.13,225.23 419.66,225.09 420.19,224.94 420.72,224.78 421.25,224.61 421.78,224.43 422.3,224.24 422.83,224.04 423.36,223.83 423.89,223.61 424.42,223.39 424.95,223.16 425.48,222.93 426,222.69 426.53,222.45 427.06,222.21 427.59,221.97 428.12,221.73 428.65,221.5 429.18,221.27" stroke="#a50d35" stroke-width="1.25" fill="none"/>
<path d="M365.76,224.2V228.04M364.46,224.2H367.06M364.46,228.04H367.06" stroke="#a50d35" stroke-width="0.9" fill="none"/>
<path d="M374.82,224.84V228.68M373.52,224.84H376.12M373.52,228.68H376.12" stroke="#a50d35" stroke-width="0.9" fill="none"/>
<path d="M383.88,224.84V228.68M382.58,224.84H385.18M382.58,228.68H385.18" stroke="#a50d35" stroke-width="0.9" fill="none"/>
<path d="M392.94,224.2V228.04M391.64,224.2H394.24M391.64,228.04H394.24" stroke="#a50d35" stroke-width="0.9" fill="none"/>
<path d="M402,224.84V228.68M400.7,224.84H403.3M400.7,228.68H403.3" stroke="#a50d35" stroke-width="0.9" fill="none"/>
<path d="M411.06,223.56V227.4M409.76,223.56H412.36M409.76,227.4H412.36" stroke="#a50d35" stroke-width="0.9" fill="none"/>
<path d="M420.12,221.64V225.48M418.81,221.64H421.42M418.81,225.48H421.42" stroke="#a50d35" stroke-width="0.9" fill="none"/>
<path d="M429.18,219.72V223.56M427.88,219.72H430.48M427.88,223.56H430.48" stroke="#a50d35" stroke-width="0.9" fill="none"/>
<polyline points="365.76,226.76 366.28,226.76 366.81,226.76 367.34,226.76 367.87,226.76 368.4,226.76 368.93,226.76 369.45,226.76 369.98,226.76 370.51,226.76 371.04,226.76 371.57,226.76 372.1,226.76 372.63,226.76 373.15,226.76 373.68,226.76 374.21,226.76 374.74,226.76 375.27,226.76 375.8,226.76 376.33,226.76 376.85,226.76 377.38,226.76 377.91,226.76 378.44,226.76 378.97,226.76 379.5,226.76 380.02,226.76 380.55,226.76 381.08,226.76 381.61,226.76 382.14,226.76 382.67,226.76 383.2,226.76 383.72,226.76 384.25,226.76 384.78,226.76 385.31,226.76 385.84,226.76 386.37,226.76 386.9,226.76 387.42,226.76 387.95,226.76 388.48,226.76 389.01,226.76 389.54,226.76 390.07,226.76 390.59,226.76 391.12,226.75 391.65,226.75 392.18,226.75 392.71,226.75 393.24,226.75 393.77,226.75 394.29,226.75 394.82,226.75 395.35,226.75 395.88,226.75 396.41,226.74 396.94,226.74 397.47,226.74 397.99,226.74 398.52,226.74 399.05,226.73 399.58,226.73 400.11,226.73 400.64,226.72 401.16,226.72 401.69,226.72 402.22,226.71 402.75,226.71 403.28,226.7 403.81,226.69 404.34,226.68 404.86,226.68 405.39,226.67 405.92,226.66 406.45,226.65 406.98,226.63 407.51,226.62 408.04,226.6 408.56,226.58 409.09,226.57 409.62,226.54 410.15,226.52 410.68,226.49 411.21,226.46 411.73,226.43 412.26,226.4 412.79,226.36 413.32,226.31 413.85,226.27 414.38,226.21 414.91,226.15 415.43,226.09 415.96,226.02 416.49,225.95 417.02,225.86 417.55,225.77 418.08,225.67 418.61,225.57 419.13,225.45 419.66,225.33 420.19,225.19 420.72,225.05 421.25,224.89 421.78,224.73 422.3,224.56 422.83,224.37 423.36,224.18 423.89,223.98 424.42,223.77 424.95,223.55 425.48,223.33 426,223.1 426.53,222.86 427.06,222.62 427.59,222.38 428.12,222.14 428.65,221.9 429.18,221.66" stroke="#35589a" stroke-width="1.25" fill="none"/>
<path d="M365.76,224.2V228.04M364.46,224.2H367.06M364.46,228.04H367.06" stroke="#35589a" stroke-width="0.9" fill="none"/>
<path d="M374.82,225.48V229.32M373.52,225.48H376.12M373.52,229.32H376.12" stroke="#35589a" stroke-width="0.9" fill="none"/>
<path d="M383.88,224.84V228.68M382.58,224.84H385.18M382.58,228.68H385.18" stroke="#35589a" stroke-width="0.9" fill="none"/>
<path d="M392.94,224.2V228.04M391.64,224.2H394.24M391.64,228.04H394.24" stroke="#35589a" stroke-width="0.9" fill="none"/>
<path d="M402,224.84V228.68M400.7,224.84H403.3M400.7,228.68H403.3" stroke="#35589a" stroke-width="0.9" fill="none"/>
<path d="M411.06,224.2V228.04M409.76,224.2H412.36M409.76,228.04H412.36" stroke="#35589a" stroke-width="0.9" fill="none"/>
<path d="M420.12,223.56V227.4M418.81,223.56H421.42M418.81,227.4H421.42" stroke="#35589a" stroke-width="0.9" fill="none"/>
<path d="M429.18,219.08V222.92M427.88,219.08H430.48M427.88,222.92H430.48" stroke="#35589a" stroke-width="0.9" fill="none"/>
<polyline points="365.76,226.76 366.28,226.76 366.81,226.76 367.34,226.76 367.87,226.76 368.4,226.76 368.93,226.76 369.45,226.76 369.98,226.76 370.51,226.76 371.04,226.76 371.57,226.76 372.1,226.76 372.63,226.76 373.15,226.76 373.68,226.76 374.21,226.76 374.74,226.76 375.27,226.76 375.8,226.76 376.33,226.76 376.85,226.76 377.38,226.76 377.91,226.76 378.44,226.76 378.97,226.76 379.5,226.76 380.02,226.76 380.55,226.76 381.08,226.76 381.61,226.76 382.14,226.76 382.67,226.76 383.2,226.76 383.72,226.76 384.25,226.76 384.78,226.76 385.31,226.76 385.84,226.76 386.37,226.76 386.9,226.76 387.42,226.76 387.95,226.76 388.48,226.76 389.01,226.76 389.54,226.76 390.07,226.76 390.59,226.75 391.12,226.75 391.65,226.75 392.18,226.75 392.71,226.75 393.24,226.75 393.77,226.75 394.29,226.75 394.82,226.75 395.35,226.75 395.88,226.74 396.41,226.74 396.94,226.74 397.47,226.74 397.99,226.74 398.52,226.73 399.05,226.73 399.58,226.73 400.11,226.72 400.64,226.72 401.16,226.71 401.69,226.71 402.22,226.7 402.75,226.69 403.28,226.69 403.81,226.68 404.34,226.67 404.86,226.66 405.39,226.65 405.92,226.64 406.45,226.62 406.98,226.61 407.51,226.59 408.04,226.57 408.56,226.55 409.09,226.53 409.62,226.5 410.15,226.47 410.68,226.44 411.21,226.41 411.73,226.37 412.26,226.33 412.79,226.28 413.32,226.23 413.85,226.17 414.38,226.11 414.91,226.04 415.43,225.97 415.96,225.89 416.49,225.8 417.02,225.7 417.55,225.6 418.08,225.48 418.61,225.36 419.13,225.23 419.66,225.09 420.19,224.94 420.72,224.78 421.25,224.61 421.78,224.43 422.3,224.24 422.83,224.04 423.36,223.83 423.89,223.61 424.42,223.39 424.95,223.16 425.48,222.93 426,222.69 426.53,222.45 427.06,222.21 427.59,221.97 428.12,221.73 428.65,221.5 429.18,221.27" stroke="#6cb04a" stroke-width="1.25" fill="none"/>
<path d="M365.76,224.2V228.04M364.46,224.2H367.06M364.46,228.04H367.06" stroke="#6cb04a" stroke-width="0.9" fill="none"/>
<path d="M374.82,224.84V228.68M373.52,224.84H376.12M373.52,228.68H376.12" stroke="#6cb04a" stroke-width="0.9" fill="none"/>
<path d="M383.88,224.84V228.68M382.58,224.84H385.18M382.58,228.68H385.18" stroke="#6cb04a" stroke-width="0.9" fill="none"/>
<path d="M392.94,224.2V228.04M391.64,224.2H394.24M391.64,228.04H394.24" stroke="#6cb04a" stroke-width="0.9" fill="none"/>
<path d="M402,224.2V228.04M400.7,224.2H403.3M400.7,228.04H403.3" stroke="#6cb04a" stroke-width="0.9" fill="none"/>
<path d="M411.06,223.56V227.4M409.76,223.56H412.36M409.76,227.4H412.36" stroke="#6cb04a" stroke-width="0.9" fill="none"/>
<path d="M420.12,222.28V226.12M418.81,222.28H421.42M418.81,226.12H421.42" stroke="#6cb04a" stroke-width="0.9" fill="none"/>
<path d="M429.18,219.72V223.56M427.88,219.72H430.48M427.88,223.56H430.48" stroke="#6cb04a" stroke-width="0.9" fill="none"/>
<circle cx="365.76" cy="226.12" r="1.5" fill="#a50d35"/>
<circle cx="374.82" cy="226.76" r="1.5" fill="#a50d35"/>
<circle cx="383.88" cy="226.76" r="1.5" fill="#a50d35"/>
<circle cx="392.94" cy="226.12" r="1.5" fill="#a50d35"/>
<circle cx="402" cy="226.76" r="1.5" fill="#a50d35"/>
<circle cx="411.06" cy="225.48" r="1.5" fill="#a50d35"/>
<circle cx="420.12" cy="223.56" r="1.5" fill="#a50d35"/>
<circle cx="429.18" cy="221.64" r="1.5" fill="#a50d35"/>
<circle cx="365.76" cy="226.12" r="1.65" fill="#fff" stroke="#6cb04a" stroke-width="1.25"/>
<circle cx="374.82" cy="226.76" r="1.65" fill="#fff" stroke="#6cb04a" stroke-width="1.25"/>
<circle cx="383.88" cy="226.76" r="1.65" fill="#fff" stroke="#6cb04a" stroke-width="1.25"/>
<circle cx="392.94" cy="226.12" r="1.65" fill="#fff" stroke="#6cb04a" stroke-width="1.25"/>
<circle cx="402" cy="226.12" r="1.65" fill="#fff" stroke="#6cb04a" stroke-width="1.25"/>
<circle cx="411.06" cy="225.48" r="1.65" fill="#fff" stroke="#6cb04a" stroke-width="1.25"/>
<circle cx="420.12" cy="224.2" r="1.65" fill="#fff" stroke="#6cb04a" stroke-width="1.25"/>
<circle cx="429.18" cy="221.64" r="1.65" fill="#fff" stroke="#6cb04a" stroke-width="1.25"/>
<path d="M365.76,224.22L367.56,227.32H363.96Z" fill="#35589a"/>
<path d="M374.82,225.5L376.62,228.6H373.02Z" fill="#35589a"/>
<path d="M383.88,224.86L385.68,227.96H382.08Z" fill="#35589a"/>
<path d="M392.94,224.22L394.74,227.32H391.14Z" fill="#35589a"/>
<path d="M402,224.86L403.8,227.96H400.2Z" fill="#35589a"/>
<path d="M411.06,224.22L412.86,227.32H409.26Z" fill="#35589a"/>
<path d="M420.12,223.58L421.92,226.68H418.31Z" fill="#35589a"/>
<path d="M429.18,219.1L430.98,222.2H427.38Z" fill="#35589a"/>
<text transform="translate(96.85,414.4) scale(0.86,1)" font-size="7.7" text-anchor="middle" font-family="Liberation Sans, sans-serif">MOLM-13</text>
<text transform="translate(25.05,456.64) rotate(-90)" x="0" y="0" font-size="10.1" font-weight="bold" text-anchor="middle" textLength="23.2" lengthAdjust="spacingAndGlyphs" font-family="Liberation Sans, sans-serif">% CD25</text>
<text transform="translate(20.55,442.14) rotate(-90)" x="0" y="0" font-size="6" font-weight="bold" text-anchor="middle" font-family="Liberation Sans, sans-serif">+</text>
<line x1="50.15" y1="477.8" x2="143.75" y2="477.8" stroke="#444" stroke-width="1.0" stroke-dasharray="0.6,0.6"/>
<path d="M50.15,420.4V492.28M49.55,488.68H143.75" stroke="#000" stroke-width="1.3" fill="none"/>
<text x="43.95" y="491.08" font-size="7" letter-spacing="0.45" text-anchor="end" stroke="#000" stroke-width="0.03" font-family="Liberation Sans, sans-serif">-20</text>
<text x="43.95" y="480.2" font-size="7" letter-spacing="0.45" text-anchor="end" stroke="#000" stroke-width="0.03" font-family="Liberation Sans, sans-serif">0</text>
<text x="43.95" y="469.32" font-size="7" letter-spacing="0.45" text-anchor="end" stroke="#000" stroke-width="0.03" font-family="Liberation Sans, sans-serif">20</text>
<text x="43.95" y="458.44" font-size="7" letter-spacing="0.45" text-anchor="end" stroke="#000" stroke-width="0.03" font-family="Liberation Sans, sans-serif">40</text>
<text x="43.95" y="447.56" font-size="7" letter-spacing="0.45" text-anchor="end" stroke="#000" stroke-width="0.03" font-family="Liberation Sans, sans-serif">60</text>
<text x="43.95" y="436.68" font-size="7" letter-spacing="0.45" text-anchor="end" stroke="#000" stroke-width="0.03" font-family="Liberation Sans, sans-serif">80</text>
<text x="43.95" y="425.8" font-size="7" letter-spacing="0.45" text-anchor="end" stroke="#000" stroke-width="0.03" font-family="Liberation Sans, sans-serif">100</text>
<path d="M46.95,488.68H50.15M48.35,483.24H50.15M46.95,477.8H50.15M48.35,472.36H50.15M46.95,466.92H50.15M48.35,461.48H50.15M46.95,456.04H50.15M48.35,450.6H50.15M46.95,445.16H50.15M48.35,439.72H50.15M46.95,434.28H50.15M48.35,428.84H50.15M46.95,423.4H50.15M50.15,488.68V492.28M55.65,488.68V490.28M57.58,488.68V490.28M59.51,488.68V490.28M61.44,488.68V490.28M63.37,488.68V490.28M65.3,488.68V490.28M68.27,488.68V492.28M73.77,488.68V490.28M75.7,488.68V490.28M77.63,488.68V490.28M79.56,488.68V490.28M81.49,488.68V490.28M83.42,488.68V490.28M86.39,488.68V492.28M91.89,488.68V490.28M93.82,488.68V490.28M95.75,488.68V490.28M97.68,488.68V490.28M99.61,488.68V490.28M101.54,488.68V490.28M104.51,488.68V492.28M110.01,488.68V490.28M111.94,488.68V490.28M113.87,488.68V490.28M115.8,488.68V490.28M117.73,488.68V490.28M119.66,488.68V490.28M122.63,488.68V492.28M128.13,488.68V490.28M130.06,488.68V490.28M131.99,488.68V490.28M133.92,488.68V490.28M135.85,488.68V490.28M137.78,488.68V490.28M140.75,488.68V492.28" stroke="#000" stroke-width="0.9" fill="none"/>
<text transform="translate(53.05,499.58) rotate(-45)" font-size="7.1" text-anchor="end" stroke="#000" stroke-width="0.05" font-family="Liberation Sans, sans-serif">0.000001</text>
<text transform="translate(71.17,499.58) rotate(-45)" font-size="7.1" text-anchor="end" stroke="#000" stroke-width="0.05" font-family="Liberation Sans, sans-serif">0.0001</text>
<text transform="translate(89.29,499.58) rotate(-45)" font-size="7.1" text-anchor="end" stroke="#000" stroke-width="0.05" font-family="Liberation Sans, sans-serif">0.01</text>
<text transform="translate(107.41,499.58) rotate(-45)" font-size="7.1" text-anchor="end" stroke="#000" stroke-width="0.05" font-family="Liberation Sans, sans-serif">1</text>
<text transform="translate(125.53,499.58) rotate(-45)" font-size="7.1" text-anchor="end" stroke="#000" stroke-width="0.05" font-family="Liberation Sans, sans-serif">100</text>
<text transform="translate(143.65,499.58) rotate(-45)" font-size="7.1" text-anchor="end" stroke="#000" stroke-width="0.05" font-family="Liberation Sans, sans-serif">10000</text>
<text x="97.05" y="533.98" font-size="10" text-anchor="middle" textLength="56.4" lengthAdjust="spacingAndGlyphs" stroke="#000" stroke-width="0.2" font-family="Liberation Sans, sans-serif">Concentration (nM)</text>
<polyline points="66,471.61 66.53,471.58 67.06,471.55 67.59,471.52 68.12,471.48 68.65,471.44 69.18,471.39 69.7,471.34 70.23,471.28 70.76,471.21 71.29,471.13 71.82,471.05 72.35,470.95 72.88,470.85 73.4,470.73 73.93,470.6 74.46,470.45 74.99,470.28 75.52,470.1 76.05,469.9 76.58,469.68 77.1,469.43 77.63,469.16 78.16,468.87 78.69,468.55 79.22,468.19 79.75,467.81 80.27,467.4 80.8,466.96 81.33,466.48 81.86,465.97 82.39,465.44 82.92,464.87 83.45,464.28 83.97,463.67 84.5,463.03 85.03,462.38 85.56,461.72 86.09,461.05 86.62,460.38 87.15,459.7 87.67,459.04 88.2,458.39 88.73,457.75 89.26,457.13 89.79,456.54 90.32,455.97 90.84,455.43 91.37,454.92 91.9,454.44 92.43,453.99 92.96,453.57 93.49,453.19 94.02,452.83 94.54,452.5 95.07,452.2 95.6,451.93 96.13,451.68 96.66,451.46 97.19,451.25 97.72,451.07 98.24,450.9 98.77,450.75 99.3,450.62 99.83,450.5 100.36,450.39 100.89,450.29 101.41,450.21 101.94,450.13 102.47,450.06 103,450 103.53,449.95 104.06,449.9 104.59,449.85 105.11,449.82 105.64,449.78 106.17,449.75 106.7,449.72 107.23,449.7 107.76,449.68 108.28,449.66 108.81,449.64 109.34,449.63 109.87,449.62 110.4,449.6 110.93,449.59 111.46,449.58 111.98,449.58 112.51,449.57 113.04,449.56 113.57,449.56 114.1,449.55 114.63,449.55 115.16,449.54 115.68,449.54 116.21,449.54 116.74,449.53 117.27,449.53 117.8,449.53 118.33,449.53 118.85,449.53 119.38,449.52 119.91,449.52 120.44,449.52 120.97,449.52 121.5,449.52 122.03,449.52 122.55,449.52 123.08,449.52 123.61,449.52 124.14,449.52 124.67,449.52 125.2,449.52 125.73,449.51 126.25,449.51 126.78,449.51 127.31,449.51 127.84,449.51 128.37,449.51 128.9,449.51 129.43,449.51" stroke="#a50d35" stroke-width="1.25" fill="none"/>
<path d="M66,469.64V472.9M64.7,469.64H67.3M64.7,472.9H67.3" stroke="#a50d35" stroke-width="0.9" fill="none"/>
<path d="M75.06,458.22V478.89M73.77,458.22H76.36M73.77,478.89H76.36" stroke="#a50d35" stroke-width="0.9" fill="none"/>
<path d="M84.12,457.13V472.36M82.83,457.13H85.42M82.83,472.36H85.42" stroke="#a50d35" stroke-width="0.9" fill="none"/>
<path d="M93.19,452.23V456.58M91.89,452.23H94.48M91.89,456.58H94.48" stroke="#a50d35" stroke-width="0.9" fill="none"/>
<path d="M102.25,444.07V453.86M100.95,444.07H103.55M100.95,453.86H103.55" stroke="#a50d35" stroke-width="0.9" fill="none"/>
<path d="M111.31,444.62V453.32M110.01,444.62H112.61M110.01,453.32H112.61" stroke="#a50d35" stroke-width="0.9" fill="none"/>
<path d="M120.37,447.88V452.23M119.07,447.88H121.67M119.07,452.23H121.67" stroke="#a50d35" stroke-width="0.9" fill="none"/>
<path d="M129.43,447.34V452.78M128.12,447.34H130.73M128.12,452.78H130.73" stroke="#a50d35" stroke-width="0.9" fill="none"/>
<polyline points="66,474.54 66.53,474.54 67.06,474.54 67.59,474.54 68.12,474.54 68.65,474.54 69.18,474.54 69.7,474.54 70.23,474.54 70.76,474.54 71.29,474.54 71.82,474.54 72.35,474.54 72.88,474.54 73.4,474.54 73.93,474.54 74.46,474.54 74.99,474.54 75.52,474.54 76.05,474.54 76.58,474.54 77.1,474.54 77.63,474.54 78.16,474.54 78.69,474.54 79.22,474.54 79.75,474.54 80.27,474.54 80.8,474.54 81.33,474.54 81.86,474.54 82.39,474.54 82.92,474.54 83.45,474.54 83.97,474.54 84.5,474.54 85.03,474.54 85.56,474.54 86.09,474.54 86.62,474.54 87.15,474.54 87.67,474.54 88.2,474.54 88.73,474.54 89.26,474.54 89.79,474.54 90.32,474.54 90.84,474.54 91.37,474.54 91.9,474.54 92.43,474.54 92.96,474.54 93.49,474.54 94.02,474.54 94.54,474.54 95.07,474.54 95.6,474.54 96.13,474.54 96.66,474.54 97.19,474.54 97.72,474.54 98.24,474.54 98.77,474.54 99.3,474.54 99.83,474.54 100.36,474.54 100.89,474.54 101.41,474.54 101.94,474.54 102.47,474.54 103,474.54 103.53,474.54 104.06,474.54 104.59,474.54 105.11,474.54 105.64,474.53 106.17,474.53 106.7,474.53 107.23,474.53 107.76,474.52 108.28,474.5 108.81,474.47 109.34,474.4 109.87,474.27 110.4,474.02 110.93,473.55 111.46,472.71 111.98,471.3 112.51,469.19 113.04,466.51 113.57,463.74 114.1,461.44 114.63,459.83 115.16,458.85 115.68,458.29 116.21,458 116.74,457.84 117.27,457.76 117.8,457.72 118.33,457.69 118.85,457.68 119.38,457.68 119.91,457.67 120.44,457.67 120.97,457.67 121.5,457.67 122.03,457.67 122.55,457.67 123.08,457.67 123.61,457.67 124.14,457.67 124.67,457.67 125.2,457.67 125.73,457.67 126.25,457.67 126.78,457.67 127.31,457.67 127.84,457.67 128.37,457.67 128.9,457.67 129.43,457.67" stroke="#6cb04a" stroke-width="1.25" fill="none"/>
<path d="M111.31,471.82V475.08M110.01,471.82H112.61M110.01,475.08H112.61" stroke="#6cb04a" stroke-width="0.9" fill="none"/>
<path d="M120.37,454.41V459.85M119.07,454.41H121.67M119.07,459.85H121.67" stroke="#6cb04a" stroke-width="0.9" fill="none"/>
<path d="M129.43,456.04V461.48M128.12,456.04H130.73M128.12,461.48H130.73" stroke="#6cb04a" stroke-width="0.9" fill="none"/>
<circle cx="66" cy="471.27" r="1.5" fill="#a50d35"/>
<circle cx="75.06" cy="468.55" r="1.5" fill="#a50d35"/>
<circle cx="84.12" cy="464.74" r="1.5" fill="#a50d35"/>
<circle cx="93.19" cy="454.41" r="1.5" fill="#a50d35"/>
<circle cx="102.25" cy="448.97" r="1.5" fill="#a50d35"/>
<circle cx="111.31" cy="448.97" r="1.5" fill="#a50d35"/>
<circle cx="120.37" cy="450.06" r="1.5" fill="#a50d35"/>
<circle cx="129.43" cy="450.06" r="1.5" fill="#a50d35"/>
<circle cx="66" cy="474.54" r="1.65" fill="#fff" stroke="#6cb04a" stroke-width="1.25"/>
<circle cx="75.06" cy="474.54" r="1.65" fill="#fff" stroke="#6cb04a" stroke-width="1.25"/>
<circle cx="84.12" cy="474.54" r="1.65" fill="#fff" stroke="#6cb04a" stroke-width="1.25"/>
<circle cx="93.19" cy="474.54" r="1.65" fill="#fff" stroke="#6cb04a" stroke-width="1.25"/>
<circle cx="102.25" cy="474.54" r="1.65" fill="#fff" stroke="#6cb04a" stroke-width="1.25"/>
<circle cx="111.31" cy="473.45" r="1.65" fill="#fff" stroke="#6cb04a" stroke-width="1.25"/>
<circle cx="120.37" cy="457.13" r="1.65" fill="#fff" stroke="#6cb04a" stroke-width="1.25"/>
<circle cx="129.43" cy="458.76" r="1.65" fill="#fff" stroke="#6cb04a" stroke-width="1.25"/>
<path d="M66,473.18L67.8,476.28H64.2Z" fill="#35589a"/>
<path d="M75.06,473.18L76.86,476.28H73.27Z" fill="#35589a"/>
<path d="M84.12,473.18L85.92,476.28H82.33Z" fill="#35589a"/>
<path d="M93.19,473.18L94.98,476.28H91.39Z" fill="#35589a"/>
<path d="M102.25,473.18L104.05,476.28H100.45Z" fill="#35589a"/>
<path d="M111.31,473.72L113.11,476.82H109.51Z" fill="#35589a"/>
<path d="M120.37,473.72L122.17,476.82H118.57Z" fill="#35589a"/>
<path d="M129.43,473.72L131.23,476.82H127.63Z" fill="#35589a"/>
<text transform="translate(246.8,414.4) scale(0.86,1)" font-size="7.7" text-anchor="middle" font-family="Liberation Sans, sans-serif">KG-1</text>
<text transform="translate(175,456.64) rotate(-90)" x="0" y="0" font-size="10.1" font-weight="bold" text-anchor="middle" textLength="23.2" lengthAdjust="spacingAndGlyphs" font-family="Liberation Sans, sans-serif">% CD25</text>
<text transform="translate(170.5,442.14) rotate(-90)" x="0" y="0" font-size="6" font-weight="bold" text-anchor="middle" font-family="Liberation Sans, sans-serif">+</text>
<line x1="200.1" y1="477.8" x2="293.7" y2="477.8" stroke="#444" stroke-width="1.0" stroke-dasharray="0.6,0.6"/>
<path d="M200.1,420.4V492.28M199.5,488.68H293.7" stroke="#000" stroke-width="1.3" fill="none"/>
<text x="193.9" y="491.08" font-size="7" letter-spacing="0.45" text-anchor="end" stroke="#000" stroke-width="0.03" font-family="Liberation Sans, sans-serif">-20</text>
<text x="193.9" y="480.2" font-size="7" letter-spacing="0.45" text-anchor="end" stroke="#000" stroke-width="0.03" font-family="Liberation Sans, sans-serif">0</text>
<text x="193.9" y="469.32" font-size="7" letter-spacing="0.45" text-anchor="end" stroke="#000" stroke-width="0.03" font-family="Liberation Sans, sans-serif">20</text>
<text x="193.9" y="458.44" font-size="7" letter-spacing="0.45" text-anchor="end" stroke="#000" stroke-width="0.03" font-family="Liberation Sans, sans-serif">40</text>
<text x="193.9" y="447.56" font-size="7" letter-spacing="0.45" text-anchor="end" stroke="#000" stroke-width="0.03" font-family="Liberation Sans, sans-serif">60</text>
<text x="193.9" y="436.68" font-size="7" letter-spacing="0.45" text-anchor="end" stroke="#000" stroke-width="0.03" font-family="Liberation Sans, sans-serif">80</text>
<text x="193.9" y="425.8" font-size="7" letter-spacing="0.45" text-anchor="end" stroke="#000" stroke-width="0.03" font-family="Liberation Sans, sans-serif">100</text>
<path d="M196.9,488.68H200.1M198.3,483.24H200.1M196.9,477.8H200.1M198.3,472.36H200.1M196.9,466.92H200.1M198.3,461.48H200.1M196.9,456.04H200.1M198.3,450.6H200.1M196.9,445.16H200.1M198.3,439.72H200.1M196.9,434.28H200.1M198.3,428.84H200.1M196.9,423.4H200.1M200.1,488.68V492.28M205.6,488.68V490.28M207.53,488.68V490.28M209.46,488.68V490.28M211.39,488.68V490.28M213.32,488.68V490.28M215.25,488.68V490.28M218.22,488.68V492.28M223.72,488.68V490.28M225.65,488.68V490.28M227.58,488.68V490.28M229.51,488.68V490.28M231.44,488.68V490.28M233.37,488.68V490.28M236.34,488.68V492.28M241.84,488.68V490.28M243.77,488.68V490.28M245.7,488.68V490.28M247.63,488.68V490.28M249.56,488.68V490.28M251.49,488.68V490.28M254.46,488.68V492.28M259.96,488.68V490.28M261.89,488.68V490.28M263.82,488.68V490.28M265.75,488.68V490.28M267.68,488.68V490.28M269.61,488.68V490.28M272.58,488.68V492.28M278.08,488.68V490.28M280.01,488.68V490.28M281.94,488.68V490.28M283.87,488.68V490.28M285.8,488.68V490.28M287.73,488.68V490.28M290.7,488.68V492.28" stroke="#000" stroke-width="0.9" fill="none"/>
<text transform="translate(203,499.58) rotate(-45)" font-size="7.1" text-anchor="end" stroke="#000" stroke-width="0.05" font-family="Liberation Sans, sans-serif">0.000001</text>
<text transform="translate(221.12,499.58) rotate(-45)" font-size="7.1" text-anchor="end" stroke="#000" stroke-width="0.05" font-family="Liberation Sans, sans-serif">0.0001</text>
<text transform="translate(239.24,499.58) rotate(-45)" font-size="7.1" text-anchor="end" stroke="#000" stroke-width="0.05" font-family="Liberation Sans, sans-serif">0.01</text>
<text transform="translate(257.36,499.58) rotate(-45)" font-size="7.1" text-anchor="end" stroke="#000" stroke-width="0.05" font-family="Liberation Sans, sans-serif">1</text>
<text transform="translate(275.48,499.58) rotate(-45)" font-size="7.1" text-anchor="end" stroke="#000" stroke-width="0.05" font-family="Liberation Sans, sans-serif">100</text>
<text transform="translate(293.6,499.58) rotate(-45)" font-size="7.1" text-anchor="end" stroke="#000" stroke-width="0.05" font-family="Liberation Sans, sans-serif">10000</text>
<text x="247" y="533.98" font-size="10" text-anchor="middle" textLength="56.4" lengthAdjust="spacingAndGlyphs" stroke="#000" stroke-width="0.2" font-family="Liberation Sans, sans-serif">Concentration (nM)</text>
<polyline points="215.95,474.54 216.48,474.54 217.01,474.54 217.54,474.54 218.07,474.54 218.6,474.54 219.13,474.54 219.65,474.54 220.18,474.54 220.71,474.54 221.24,474.54 221.77,474.54 222.3,474.54 222.83,474.54 223.35,474.54 223.88,474.54 224.41,474.54 224.94,474.54 225.47,474.53 226,474.53 226.53,474.53 227.05,474.53 227.58,474.53 228.11,474.53 228.64,474.53 229.17,474.53 229.7,474.52 230.22,474.52 230.75,474.51 231.28,474.5 231.81,474.49 232.34,474.48 232.87,474.46 233.4,474.43 233.92,474.4 234.45,474.35 234.98,474.29 235.51,474.21 236.04,474.1 236.57,473.95 237.09,473.76 237.62,473.5 238.15,473.17 238.68,472.75 239.21,472.22 239.74,471.55 240.27,470.73 240.79,469.76 241.32,468.64 241.85,467.4 242.38,466.07 242.91,464.7 243.44,463.36 243.97,462.11 244.49,460.97 245.02,459.97 245.55,459.14 246.08,458.45 246.61,457.89 247.14,457.46 247.66,457.11 248.19,456.85 248.72,456.65 249.25,456.5 249.78,456.38 250.31,456.3 250.84,456.23 251.36,456.18 251.89,456.15 252.42,456.12 252.95,456.1 253.48,456.08 254.01,456.07 254.54,456.06 255.06,456.06 255.59,456.05 256.12,456.05 256.65,456.05 257.18,456.05 257.71,456.04 258.24,456.04 258.76,456.04 259.29,456.04 259.82,456.04 260.35,456.04 260.88,456.04 261.41,456.04 261.93,456.04 262.46,456.04 262.99,456.04 263.52,456.04 264.05,456.04 264.58,456.04 265.11,456.04 265.63,456.04 266.16,456.04 266.69,456.04 267.22,456.04 267.75,456.04 268.28,456.04 268.81,456.04 269.33,456.04 269.86,456.04 270.39,456.04 270.92,456.04 271.45,456.04 271.98,456.04 272.5,456.04 273.03,456.04 273.56,456.04 274.09,456.04 274.62,456.04 275.15,456.04 275.68,456.04 276.2,456.04 276.73,456.04 277.26,456.04 277.79,456.04 278.32,456.04 278.85,456.04 279.38,456.04" stroke="#a50d35" stroke-width="1.25" fill="none"/>
<path d="M215.95,473.45V475.62M214.65,473.45H217.25M214.65,475.62H217.25" stroke="#a50d35" stroke-width="0.9" fill="none"/>
<path d="M225.01,473.45V475.62M223.71,473.45H226.31M223.71,475.62H226.31" stroke="#a50d35" stroke-width="0.9" fill="none"/>
<path d="M234.07,472.9V475.08M232.77,472.9H235.38M232.77,475.08H235.38" stroke="#a50d35" stroke-width="0.9" fill="none"/>
<path d="M243.13,464.2V467.46M241.83,464.2H244.44M241.83,467.46H244.44" stroke="#a50d35" stroke-width="0.9" fill="none"/>
<path d="M252.19,451.69V460.39M250.89,451.69H253.5M250.89,460.39H253.5" stroke="#a50d35" stroke-width="0.9" fill="none"/>
<path d="M261.25,453.86V456.04M259.95,453.86H262.56M259.95,456.04H262.56" stroke="#a50d35" stroke-width="0.9" fill="none"/>
<path d="M270.31,454.95V458.22M269.01,454.95H271.62M269.01,458.22H271.62" stroke="#a50d35" stroke-width="0.9" fill="none"/>
<path d="M279.38,454.95V458.22M278.07,454.95H280.68M278.07,458.22H280.68" stroke="#a50d35" stroke-width="0.9" fill="none"/>
<polyline points="215.95,474.54 216.48,474.54 217.01,474.54 217.54,474.54 218.07,474.54 218.6,474.54 219.13,474.54 219.65,474.54 220.18,474.54 220.71,474.54 221.24,474.54 221.77,474.54 222.3,474.54 222.83,474.54 223.35,474.54 223.88,474.54 224.41,474.54 224.94,474.54 225.47,474.54 226,474.54 226.53,474.54 227.05,474.54 227.58,474.54 228.11,474.54 228.64,474.54 229.17,474.54 229.7,474.54 230.22,474.54 230.75,474.54 231.28,474.54 231.81,474.54 232.34,474.54 232.87,474.54 233.4,474.54 233.92,474.54 234.45,474.54 234.98,474.54 235.51,474.54 236.04,474.54 236.57,474.54 237.09,474.54 237.62,474.54 238.15,474.54 238.68,474.54 239.21,474.54 239.74,474.54 240.27,474.54 240.79,474.54 241.32,474.54 241.85,474.54 242.38,474.54 242.91,474.54 243.44,474.54 243.97,474.54 244.49,474.54 245.02,474.54 245.55,474.54 246.08,474.54 246.61,474.54 247.14,474.54 247.66,474.54 248.19,474.54 248.72,474.54 249.25,474.54 249.78,474.54 250.31,474.54 250.84,474.54 251.36,474.54 251.89,474.54 252.42,474.54 252.95,474.54 253.48,474.54 254.01,474.54 254.54,474.54 255.06,474.54 255.59,474.54 256.12,474.54 256.65,474.54 257.18,474.54 257.71,474.53 258.24,474.53 258.76,474.53 259.29,474.52 259.82,474.51 260.35,474.49 260.88,474.45 261.41,474.37 261.93,474.22 262.46,473.93 262.99,473.4 263.52,472.48 264.05,471.02 264.58,469.03 265.11,466.76 265.63,464.7 266.16,463.16 266.69,462.17 267.22,461.6 267.75,461.28 268.28,461.11 268.81,461.03 269.33,460.98 269.86,460.96 270.39,460.95 270.92,460.94 271.45,460.94 271.98,460.94 272.5,460.94 273.03,460.94 273.56,460.94 274.09,460.94 274.62,460.94 275.15,460.94 275.68,460.94 276.2,460.94 276.73,460.94 277.26,460.94 277.79,460.94 278.32,460.94 278.85,460.94 279.38,460.94" stroke="#6cb04a" stroke-width="1.25" fill="none"/>
<path d="M261.25,470.73V473.99M259.95,470.73H262.56M259.95,473.99H262.56" stroke="#6cb04a" stroke-width="0.9" fill="none"/>
<path d="M270.31,458.22V463.66M269.01,458.22H271.62M269.01,463.66H271.62" stroke="#6cb04a" stroke-width="0.9" fill="none"/>
<path d="M279.38,457.13V464.74M278.07,457.13H280.68M278.07,464.74H280.68" stroke="#6cb04a" stroke-width="0.9" fill="none"/>
<circle cx="215.95" cy="474.54" r="1.5" fill="#a50d35"/>
<circle cx="225.01" cy="474.54" r="1.5" fill="#a50d35"/>
<circle cx="234.07" cy="473.99" r="1.5" fill="#a50d35"/>
<circle cx="243.13" cy="465.83" r="1.5" fill="#a50d35"/>
<circle cx="252.19" cy="456.04" r="1.5" fill="#a50d35"/>
<circle cx="261.25" cy="454.95" r="1.5" fill="#a50d35"/>
<circle cx="270.31" cy="456.58" r="1.5" fill="#a50d35"/>
<circle cx="279.38" cy="456.58" r="1.5" fill="#a50d35"/>
<circle cx="215.95" cy="474.54" r="1.65" fill="#fff" stroke="#6cb04a" stroke-width="1.25"/>
<circle cx="225.01" cy="474.54" r="1.65" fill="#fff" stroke="#6cb04a" stroke-width="1.25"/>
<circle cx="234.07" cy="474.54" r="1.65" fill="#fff" stroke="#6cb04a" stroke-width="1.25"/>
<circle cx="243.13" cy="474.54" r="1.65" fill="#fff" stroke="#6cb04a" stroke-width="1.25"/>
<circle cx="252.19" cy="474.54" r="1.65" fill="#fff" stroke="#6cb04a" stroke-width="1.25"/>
<circle cx="261.25" cy="472.36" r="1.65" fill="#fff" stroke="#6cb04a" stroke-width="1.25"/>
<circle cx="270.31" cy="460.94" r="1.65" fill="#fff" stroke="#6cb04a" stroke-width="1.25"/>
<circle cx="279.38" cy="460.94" r="1.65" fill="#fff" stroke="#6cb04a" stroke-width="1.25"/>
<path d="M215.95,473.18L217.75,476.28H214.15Z" fill="#35589a"/>
<path d="M225.01,473.18L226.81,476.28H223.21Z" fill="#35589a"/>
<path d="M234.07,473.18L235.88,476.28H232.27Z" fill="#35589a"/>
<path d="M243.13,473.18L244.94,476.28H241.33Z" fill="#35589a"/>
<path d="M252.19,473.18L254,476.28H250.39Z" fill="#35589a"/>
<path d="M261.25,474.27L263.06,477.37H259.45Z" fill="#35589a"/>
<path d="M270.31,474.27L272.12,477.37H268.51Z" fill="#35589a"/>
<path d="M279.38,474.27L281.18,477.37H277.57Z" fill="#35589a"/>
<text transform="translate(397.1,414.4) scale(0.86,1)" font-size="7.7" text-anchor="middle" font-family="Liberation Sans, sans-serif">KG1ΔCD33</text>
<text transform="translate(325.3,456.64) rotate(-90)" x="0" y="0" font-size="10.1" font-weight="bold" text-anchor="middle" textLength="23.2" lengthAdjust="spacingAndGlyphs" font-family="Liberation Sans, sans-serif">% CD25</text>
<text transform="translate(320.8,442.14) rotate(-90)" x="0" y="0" font-size="6" font-weight="bold" text-anchor="middle" font-family="Liberation Sans, sans-serif">+</text>
<line x1="350.4" y1="477.8" x2="444" y2="477.8" stroke="#444" stroke-width="1.0" stroke-dasharray="0.6,0.6"/>
<path d="M350.4,420.4V492.28M349.8,488.68H444" stroke="#000" stroke-width="1.3" fill="none"/>
<text x="344.2" y="491.08" font-size="7" letter-spacing="0.45" text-anchor="end" stroke="#000" stroke-width="0.03" font-family="Liberation Sans, sans-serif">-20</text>
<text x="344.2" y="480.2" font-size="7" letter-spacing="0.45" text-anchor="end" stroke="#000" stroke-width="0.03" font-family="Liberation Sans, sans-serif">0</text>
<text x="344.2" y="469.32" font-size="7" letter-spacing="0.45" text-anchor="end" stroke="#000" stroke-width="0.03" font-family="Liberation Sans, sans-serif">20</text>
<text x="344.2" y="458.44" font-size="7" letter-spacing="0.45" text-anchor="end" stroke="#000" stroke-width="0.03" font-family="Liberation Sans, sans-serif">40</text>
<text x="344.2" y="447.56" font-size="7" letter-spacing="0.45" text-anchor="end" stroke="#000" stroke-width="0.03" font-family="Liberation Sans, sans-serif">60</text>
<text x="344.2" y="436.68" font-size="7" letter-spacing="0.45" text-anchor="end" stroke="#000" stroke-width="0.03" font-family="Liberation Sans, sans-serif">80</text>
<text x="344.2" y="425.8" font-size="7" letter-spacing="0.45" text-anchor="end" stroke="#000" stroke-width="0.03" font-family="Liberation Sans, sans-serif">100</text>
<path d="M347.2,488.68H350.4M348.6,483.24H350.4M347.2,477.8H350.4M348.6,472.36H350.4M347.2,466.92H350.4M348.6,461.48H350.4M347.2,456.04H350.4M348.6,450.6H350.4M347.2,445.16H350.4M348.6,439.72H350.4M347.2,434.28H350.4M348.6,428.84H350.4M347.2,423.4H350.4M350.4,488.68V492.28M355.9,488.68V490.28M357.83,488.68V490.28M359.76,488.68V490.28M361.69,488.68V490.28M363.62,488.68V490.28M365.55,488.68V490.28M368.52,488.68V492.28M374.02,488.68V490.28M375.95,488.68V490.28M377.88,488.68V490.28M379.81,488.68V490.28M381.74,488.68V490.28M383.67,488.68V490.28M386.64,488.68V492.28M392.14,488.68V490.28M394.07,488.68V490.28M396,488.68V490.28M397.93,488.68V490.28M399.86,488.68V490.28M401.79,488.68V490.28M404.76,488.68V492.28M410.26,488.68V490.28M412.19,488.68V490.28M414.12,488.68V490.28M416.05,488.68V490.28M417.98,488.68V490.28M419.91,488.68V490.28M422.88,488.68V492.28M428.38,488.68V490.28M430.31,488.68V490.28M432.24,488.68V490.28M434.17,488.68V490.28M436.1,488.68V490.28M438.03,488.68V490.28M441,488.68V492.28" stroke="#000" stroke-width="0.9" fill="none"/>
<text transform="translate(353.3,499.58) rotate(-45)" font-size="7.1" text-anchor="end" stroke="#000" stroke-width="0.05" font-family="Liberation Sans, sans-serif">0.000001</text>
<text transform="translate(371.42,499.58) rotate(-45)" font-size="7.1" text-anchor="end" stroke="#000" stroke-width="0.05" font-family="Liberation Sans, sans-serif">0.0001</text>
<text transform="translate(389.54,499.58) rotate(-45)" font-size="7.1" text-anchor="end" stroke="#000" stroke-width="0.05" font-family="Liberation Sans, sans-serif">0.01</text>
<text transform="translate(407.66,499.58) rotate(-45)" font-size="7.1" text-anchor="end" stroke="#000" stroke-width="0.05" font-family="Liberation Sans, sans-serif">1</text>
<text transform="translate(425.78,499.58) rotate(-45)" font-size="7.1" text-anchor="end" stroke="#000" stroke-width="0.05" font-family="Liberation Sans, sans-serif">100</text>
<text transform="translate(443.9,499.58) rotate(-45)" font-size="7.1" text-anchor="end" stroke="#000" stroke-width="0.05" font-family="Liberation Sans, sans-serif">10000</text>
<text x="397.3" y="533.98" font-size="10" text-anchor="middle" textLength="56.4" lengthAdjust="spacingAndGlyphs" stroke="#000" stroke-width="0.2" font-family="Liberation Sans, sans-serif">Concentration (nM)</text>
<polyline points="366.26,474.54 366.78,474.54 367.31,474.53 367.84,474.53 368.37,474.53 368.9,474.53 369.43,474.53 369.95,474.53 370.48,474.53 371.01,474.53 371.54,474.53 372.07,474.53 372.6,474.53 373.13,474.53 373.65,474.52 374.18,474.52 374.71,474.52 375.24,474.52 375.77,474.51 376.3,474.5 376.83,474.5 377.35,474.49 377.88,474.48 378.41,474.47 378.94,474.45 379.47,474.44 380,474.42 380.52,474.39 381.05,474.36 381.58,474.33 382.11,474.29 382.64,474.24 383.17,474.19 383.7,474.14 384.22,474.07 384.75,474 385.28,473.93 385.81,473.85 386.34,473.77 386.87,473.68 387.4,473.6 387.92,473.52 388.45,473.45 388.98,473.38 389.51,473.31 390.04,473.25 390.57,473.2 391.09,473.16 391.62,473.12 392.15,473.08 392.68,473.05 393.21,473.03 393.74,473.01 394.27,472.99 394.79,472.97 395.32,472.96 395.85,472.95 396.38,472.94 396.91,472.94 397.44,472.93 397.97,472.93 398.49,472.92 399.02,472.92 399.55,472.92 400.08,472.91 400.61,472.91 401.14,472.91 401.66,472.91 402.19,472.91 402.72,472.91 403.25,472.91 403.78,472.91 404.31,472.91 404.84,472.91 405.36,472.91 405.89,472.91 406.42,472.9 406.95,472.9 407.48,472.9 408.01,472.9 408.54,472.9 409.06,472.9 409.59,472.9 410.12,472.9 410.65,472.9 411.18,472.9 411.71,472.9 412.23,472.9 412.76,472.9 413.29,472.9 413.82,472.9 414.35,472.9 414.88,472.9 415.41,472.9 415.93,472.9 416.46,472.9 416.99,472.9 417.52,472.9 418.05,472.9 418.58,472.9 419.11,472.9 419.63,472.9 420.16,472.9 420.69,472.9 421.22,472.9 421.75,472.9 422.28,472.9 422.8,472.9 423.33,472.9 423.86,472.9 424.39,472.9 424.92,472.9 425.45,472.9 425.98,472.9 426.5,472.9 427.03,472.9 427.56,472.9 428.09,472.9 428.62,472.9 429.15,472.9 429.68,472.9" stroke="#a50d35" stroke-width="1.25" fill="none"/>
<path d="M366.26,473.45V475.62M364.96,473.45H367.56M364.96,475.62H367.56" stroke="#a50d35" stroke-width="0.9" fill="none"/>
<path d="M375.32,473.45V475.62M374.02,473.45H376.62M374.02,475.62H376.62" stroke="#a50d35" stroke-width="0.9" fill="none"/>
<path d="M384.38,473.45V475.62M383.08,473.45H385.68M383.08,475.62H385.68" stroke="#a50d35" stroke-width="0.9" fill="none"/>
<path d="M393.44,472.36V474.54M392.14,472.36H394.74M392.14,474.54H394.74" stroke="#a50d35" stroke-width="0.9" fill="none"/>
<path d="M402.5,471.27V475.62M401.2,471.27H403.8M401.2,475.62H403.8" stroke="#a50d35" stroke-width="0.9" fill="none"/>
<path d="M411.56,471.27V474.54M410.26,471.27H412.86M410.26,474.54H412.86" stroke="#a50d35" stroke-width="0.9" fill="none"/>
<path d="M420.62,471.27V474.54M419.31,471.27H421.92M419.31,474.54H421.92" stroke="#a50d35" stroke-width="0.9" fill="none"/>
<path d="M429.68,471.27V474.54M428.38,471.27H430.98M428.38,474.54H430.98" stroke="#a50d35" stroke-width="0.9" fill="none"/>
<polyline points="366.26,474.54 366.78,474.54 367.31,474.54 367.84,474.54 368.37,474.54 368.9,474.54 369.43,474.54 369.95,474.54 370.48,474.54 371.01,474.54 371.54,474.54 372.07,474.54 372.6,474.54 373.13,474.54 373.65,474.54 374.18,474.54 374.71,474.54 375.24,474.54 375.77,474.54 376.3,474.54 376.83,474.54 377.35,474.54 377.88,474.54 378.41,474.54 378.94,474.54 379.47,474.54 380,474.54 380.52,474.54 381.05,474.54 381.58,474.54 382.11,474.54 382.64,474.54 383.17,474.54 383.7,474.54 384.22,474.54 384.75,474.54 385.28,474.54 385.81,474.54 386.34,474.54 386.87,474.54 387.4,474.54 387.92,474.54 388.45,474.54 388.98,474.54 389.51,474.54 390.04,474.54 390.57,474.54 391.09,474.54 391.62,474.54 392.15,474.54 392.68,474.54 393.21,474.54 393.74,474.54 394.27,474.54 394.79,474.54 395.32,474.54 395.85,474.54 396.38,474.54 396.91,474.54 397.44,474.54 397.97,474.54 398.49,474.54 399.02,474.54 399.55,474.54 400.08,474.54 400.61,474.54 401.14,474.54 401.66,474.54 402.19,474.54 402.72,474.54 403.25,474.54 403.78,474.54 404.31,474.54 404.84,474.54 405.36,474.54 405.89,474.54 406.42,474.54 406.95,474.54 407.48,474.54 408.01,474.54 408.54,474.54 409.06,474.53 409.59,474.53 410.12,474.5 410.65,474.41 411.18,474.07 411.71,472.93 412.23,470.03 412.76,465.99 413.29,463.38 413.82,462.41 414.35,462.13 414.88,462.05 415.41,462.03 415.93,462.03 416.46,462.02 416.99,462.02 417.52,462.02 418.05,462.02 418.58,462.02 419.11,462.02 419.63,462.02 420.16,462.02 420.69,462.02 421.22,462.02 421.75,462.02 422.28,462.02 422.8,462.02 423.33,462.02 423.86,462.02 424.39,462.02 424.92,462.02 425.45,462.02 425.98,462.02 426.5,462.02 427.03,462.02 427.56,462.02 428.09,462.02 428.62,462.02 429.15,462.02 429.68,462.02" stroke="#6cb04a" stroke-width="1.25" fill="none"/>
<path d="M375.32,473.99V476.17M374.02,473.99H376.62M374.02,476.17H376.62" stroke="#6cb04a" stroke-width="0.9" fill="none"/>
<path d="M384.38,473.45V475.62M383.08,473.45H385.68M383.08,475.62H385.68" stroke="#6cb04a" stroke-width="0.9" fill="none"/>
<path d="M393.44,473.45V475.62M392.14,473.45H394.74M392.14,475.62H394.74" stroke="#6cb04a" stroke-width="0.9" fill="none"/>
<path d="M402.5,473.45V475.62M401.2,473.45H403.8M401.2,475.62H403.8" stroke="#6cb04a" stroke-width="0.9" fill="none"/>
<path d="M411.56,467.19V471M410.26,467.19H412.86M410.26,471H412.86" stroke="#6cb04a" stroke-width="0.9" fill="none"/>
<path d="M420.62,454.41V464.2M419.31,454.41H421.92M419.31,464.2H421.92" stroke="#6cb04a" stroke-width="0.9" fill="none"/>
<path d="M429.68,460.12V468.82M428.38,460.12H430.98M428.38,468.82H430.98" stroke="#6cb04a" stroke-width="0.9" fill="none"/>
<circle cx="366.26" cy="474.54" r="1.5" fill="#a50d35"/>
<circle cx="375.32" cy="474.54" r="1.5" fill="#a50d35"/>
<circle cx="384.38" cy="474.54" r="1.5" fill="#a50d35"/>
<circle cx="393.44" cy="473.45" r="1.5" fill="#a50d35"/>
<circle cx="402.5" cy="473.45" r="1.5" fill="#a50d35"/>
<circle cx="411.56" cy="472.9" r="1.5" fill="#a50d35"/>
<circle cx="420.62" cy="472.9" r="1.5" fill="#a50d35"/>
<circle cx="429.68" cy="472.9" r="1.5" fill="#a50d35"/>
<circle cx="366.26" cy="474.54" r="1.65" fill="#fff" stroke="#6cb04a" stroke-width="1.25"/>
<circle cx="375.32" cy="475.08" r="1.65" fill="#fff" stroke="#6cb04a" stroke-width="1.25"/>
<circle cx="384.38" cy="474.54" r="1.65" fill="#fff" stroke="#6cb04a" stroke-width="1.25"/>
<circle cx="393.44" cy="474.54" r="1.65" fill="#fff" stroke="#6cb04a" stroke-width="1.25"/>
<circle cx="402.5" cy="474.54" r="1.65" fill="#fff" stroke="#6cb04a" stroke-width="1.25"/>
<circle cx="411.56" cy="469.1" r="1.65" fill="#fff" stroke="#6cb04a" stroke-width="1.25"/>
<circle cx="420.62" cy="459.3" r="1.65" fill="#fff" stroke="#6cb04a" stroke-width="1.25"/>
<circle cx="429.68" cy="464.47" r="1.65" fill="#fff" stroke="#6cb04a" stroke-width="1.25"/>
<path d="M366.26,473.18L368.06,476.28H364.46Z" fill="#35589a"/>
<path d="M375.32,474.81L377.12,477.91H373.52Z" fill="#35589a"/>
<path d="M384.38,474.81L386.18,477.91H382.58Z" fill="#35589a"/>
<path d="M393.44,473.18L395.24,476.28H391.64Z" fill="#35589a"/>
<path d="M402.5,473.18L404.3,476.28H400.7Z" fill="#35589a"/>
<path d="M411.56,474.1L413.36,477.2H409.76Z" fill="#35589a"/>
<path d="M420.62,474.1L422.42,477.2H418.81Z" fill="#35589a"/>
<path d="M429.68,474.1L431.48,477.2H427.88Z" fill="#35589a"/>
<text transform="translate(96.85,550.6) scale(0.86,1)" font-size="7.7" text-anchor="middle" font-family="Liberation Sans, sans-serif">Kasumi-1</text>
<text transform="translate(25.05,592.64) rotate(-90)" x="0" y="0" font-size="10.1" font-weight="bold" text-anchor="middle" textLength="23.2" lengthAdjust="spacingAndGlyphs" font-family="Liberation Sans, sans-serif">% CD25</text>
<text transform="translate(20.55,578.14) rotate(-90)" x="0" y="0" font-size="6" font-weight="bold" text-anchor="middle" font-family="Liberation Sans, sans-serif">+</text>
<line x1="50.15" y1="613.8" x2="143.75" y2="613.8" stroke="#444" stroke-width="1.0" stroke-dasharray="0.6,0.6"/>
<path d="M50.15,556.4V628.28M49.55,624.68H143.75" stroke="#000" stroke-width="1.3" fill="none"/>
<text x="43.95" y="627.08" font-size="7" letter-spacing="0.45" text-anchor="end" stroke="#000" stroke-width="0.03" font-family="Liberation Sans, sans-serif">-20</text>
<text x="43.95" y="616.2" font-size="7" letter-spacing="0.45" text-anchor="end" stroke="#000" stroke-width="0.03" font-family="Liberation Sans, sans-serif">0</text>
<text x="43.95" y="605.32" font-size="7" letter-spacing="0.45" text-anchor="end" stroke="#000" stroke-width="0.03" font-family="Liberation Sans, sans-serif">20</text>
<text x="43.95" y="594.44" font-size="7" letter-spacing="0.45" text-anchor="end" stroke="#000" stroke-width="0.03" font-family="Liberation Sans, sans-serif">40</text>
<text x="43.95" y="583.56" font-size="7" letter-spacing="0.45" text-anchor="end" stroke="#000" stroke-width="0.03" font-family="Liberation Sans, sans-serif">60</text>
<text x="43.95" y="572.68" font-size="7" letter-spacing="0.45" text-anchor="end" stroke="#000" stroke-width="0.03" font-family="Liberation Sans, sans-serif">80</text>
<text x="43.95" y="561.8" font-size="7" letter-spacing="0.45" text-anchor="end" stroke="#000" stroke-width="0.03" font-family="Liberation Sans, sans-serif">100</text>
<path d="M46.95,624.68H50.15M48.35,619.24H50.15M46.95,613.8H50.15M48.35,608.36H50.15M46.95,602.92H50.15M48.35,597.48H50.15M46.95,592.04H50.15M48.35,586.6H50.15M46.95,581.16H50.15M48.35,575.72H50.15M46.95,570.28H50.15M48.35,564.84H50.15M46.95,559.4H50.15M50.15,624.68V628.28M55.65,624.68V626.28M57.58,624.68V626.28M59.51,624.68V626.28M61.44,624.68V626.28M63.37,624.68V626.28M65.3,624.68V626.28M68.27,624.68V628.28M73.77,624.68V626.28M75.7,624.68V626.28M77.63,624.68V626.28M79.56,624.68V626.28M81.49,624.68V626.28M83.42,624.68V626.28M86.39,624.68V628.28M91.89,624.68V626.28M93.82,624.68V626.28M95.75,624.68V626.28M97.68,624.68V626.28M99.61,624.68V626.28M101.54,624.68V626.28M104.51,624.68V628.28M110.01,624.68V626.28M111.94,624.68V626.28M113.87,624.68V626.28M115.8,624.68V626.28M117.73,624.68V626.28M119.66,624.68V626.28M122.63,624.68V628.28M128.13,624.68V626.28M130.06,624.68V626.28M131.99,624.68V626.28M133.92,624.68V626.28M135.85,624.68V626.28M137.78,624.68V626.28M140.75,624.68V628.28" stroke="#000" stroke-width="0.9" fill="none"/>
<text transform="translate(53.05,635.58) rotate(-45)" font-size="7.1" text-anchor="end" stroke="#000" stroke-width="0.05" font-family="Liberation Sans, sans-serif">0.000001</text>
<text transform="translate(71.17,635.58) rotate(-45)" font-size="7.1" text-anchor="end" stroke="#000" stroke-width="0.05" font-family="Liberation Sans, sans-serif">0.0001</text>
<text transform="translate(89.29,635.58) rotate(-45)" font-size="7.1" text-anchor="end" stroke="#000" stroke-width="0.05" font-family="Liberation Sans, sans-serif">0.01</text>
<text transform="translate(107.41,635.58) rotate(-45)" font-size="7.1" text-anchor="end" stroke="#000" stroke-width="0.05" font-family="Liberation Sans, sans-serif">1</text>
<text transform="translate(125.53,635.58) rotate(-45)" font-size="7.1" text-anchor="end" stroke="#000" stroke-width="0.05" font-family="Liberation Sans, sans-serif">100</text>
<text transform="translate(143.65,635.58) rotate(-45)" font-size="7.1" text-anchor="end" stroke="#000" stroke-width="0.05" font-family="Liberation Sans, sans-serif">10000</text>
<text x="97.05" y="669.98" font-size="10" text-anchor="middle" textLength="56.4" lengthAdjust="spacingAndGlyphs" stroke="#000" stroke-width="0.2" font-family="Liberation Sans, sans-serif">Concentration (nM)</text>
<polyline points="66,611.62 66.53,611.62 67.06,611.62 67.59,611.62 68.12,611.62 68.65,611.62 69.18,611.62 69.7,611.62 70.23,611.62 70.76,611.62 71.29,611.62 71.82,611.62 72.35,611.62 72.88,611.62 73.4,611.62 73.93,611.62 74.46,611.62 74.99,611.62 75.52,611.62 76.05,611.62 76.58,611.62 77.1,611.62 77.63,611.62 78.16,611.62 78.69,611.62 79.22,611.62 79.75,611.62 80.27,611.62 80.8,611.62 81.33,611.62 81.86,611.62 82.39,611.62 82.92,611.62 83.45,611.62 83.97,611.62 84.5,611.62 85.03,611.62 85.56,611.62 86.09,611.62 86.62,611.62 87.15,611.62 87.67,611.61 88.2,611.6 88.73,611.56 89.26,611.48 89.79,611.31 90.32,610.93 90.84,610.12 91.37,608.46 91.9,605.4 92.43,600.68 92.96,595.06 93.49,590.13 94.02,586.84 94.54,585.01 95.07,584.11 95.6,583.69 96.13,583.49 96.66,583.41 97.19,583.37 97.72,583.35 98.24,583.34 98.77,583.34 99.3,583.34 99.83,583.34 100.36,583.34 100.89,583.34 101.41,583.34 101.94,583.34 102.47,583.34 103,583.34 103.53,583.34 104.06,583.34 104.59,583.34 105.11,583.34 105.64,583.34 106.17,583.34 106.7,583.34 107.23,583.34 107.76,583.34 108.28,583.34 108.81,583.34 109.34,583.34 109.87,583.34 110.4,583.34 110.93,583.34 111.46,583.34 111.98,583.34 112.51,583.34 113.04,583.34 113.57,583.34 114.1,583.34 114.63,583.34 115.16,583.34 115.68,583.34 116.21,583.34 116.74,583.34 117.27,583.34 117.8,583.34 118.33,583.34 118.85,583.34 119.38,583.34 119.91,583.34 120.44,583.34 120.97,583.34 121.5,583.34 122.03,583.34 122.55,583.34 123.08,583.34 123.61,583.34 124.14,583.34 124.67,583.34 125.2,583.34 125.73,583.34 126.25,583.34 126.78,583.34 127.31,583.34 127.84,583.34 128.37,583.34 128.9,583.34 129.43,583.34" stroke="#a50d35" stroke-width="1.25" fill="none"/>
<path d="M93.19,590.95V600.74M91.89,590.95H94.48M91.89,600.74H94.48" stroke="#a50d35" stroke-width="0.9" fill="none"/>
<path d="M102.25,578.44V583.88M100.95,578.44H103.55M100.95,583.88H103.55" stroke="#a50d35" stroke-width="0.9" fill="none"/>
<path d="M111.31,580.62V587.14M110.01,580.62H112.61M110.01,587.14H112.61" stroke="#a50d35" stroke-width="0.9" fill="none"/>
<path d="M120.37,582.79V587.14M119.07,582.79H121.67M119.07,587.14H121.67" stroke="#a50d35" stroke-width="0.9" fill="none"/>
<path d="M129.43,582.79V588.23M128.12,582.79H130.73M128.12,588.23H130.73" stroke="#a50d35" stroke-width="0.9" fill="none"/>
<polyline points="66,612.17 66.53,612.17 67.06,612.17 67.59,612.17 68.12,612.17 68.65,612.17 69.18,612.17 69.7,612.17 70.23,612.17 70.76,612.17 71.29,612.17 71.82,612.17 72.35,612.17 72.88,612.17 73.4,612.17 73.93,612.17 74.46,612.17 74.99,612.17 75.52,612.17 76.05,612.17 76.58,612.17 77.1,612.17 77.63,612.17 78.16,612.17 78.69,612.17 79.22,612.17 79.75,612.17 80.27,612.17 80.8,612.17 81.33,612.17 81.86,612.17 82.39,612.17 82.92,612.17 83.45,612.17 83.97,612.17 84.5,612.17 85.03,612.17 85.56,612.17 86.09,612.17 86.62,612.17 87.15,612.17 87.67,612.17 88.2,612.17 88.73,612.17 89.26,612.17 89.79,612.17 90.32,612.17 90.84,612.17 91.37,612.17 91.9,612.17 92.43,612.17 92.96,612.17 93.49,612.17 94.02,612.17 94.54,612.17 95.07,612.17 95.6,612.17 96.13,612.17 96.66,612.17 97.19,612.17 97.72,612.17 98.24,612.17 98.77,612.17 99.3,612.17 99.83,612.17 100.36,612.17 100.89,612.17 101.41,612.17 101.94,612.17 102.47,612.17 103,612.17 103.53,612.17 104.06,612.17 104.59,612.17 105.11,612.17 105.64,612.17 106.17,612.17 106.7,612.17 107.23,612.17 107.76,612.16 108.28,612.16 108.81,612.15 109.34,612.12 109.87,612.08 110.4,612 110.93,611.84 111.46,611.55 111.98,610.99 112.51,610.01 113.04,608.4 113.57,606.1 114.1,603.33 114.63,600.65 115.16,598.54 115.68,597.13 116.21,596.29 116.74,595.82 117.27,595.57 117.8,595.44 118.33,595.37 118.85,595.34 119.38,595.32 119.91,595.31 120.44,595.31 120.97,595.31 121.5,595.31 122.03,595.3 122.55,595.3 123.08,595.3 123.61,595.3 124.14,595.3 124.67,595.3 125.2,595.3 125.73,595.3 126.25,595.3 126.78,595.3 127.31,595.3 127.84,595.3 128.37,595.3 128.9,595.3 129.43,595.3" stroke="#6cb04a" stroke-width="1.25" fill="none"/>
<path d="M111.31,609.45V611.62M110.01,609.45H112.61M110.01,611.62H112.61" stroke="#6cb04a" stroke-width="0.9" fill="none"/>
<path d="M120.37,592.58V598.02M119.07,592.58H121.67M119.07,598.02H121.67" stroke="#6cb04a" stroke-width="0.9" fill="none"/>
<path d="M129.43,594.22V599.66M128.12,594.22H130.73M128.12,599.66H130.73" stroke="#6cb04a" stroke-width="0.9" fill="none"/>
<circle cx="66" cy="611.62" r="1.5" fill="#a50d35"/>
<circle cx="75.06" cy="611.62" r="1.5" fill="#a50d35"/>
<circle cx="84.12" cy="609.45" r="1.5" fill="#a50d35"/>
<circle cx="93.19" cy="595.85" r="1.5" fill="#a50d35"/>
<circle cx="102.25" cy="581.16" r="1.5" fill="#a50d35"/>
<circle cx="111.31" cy="583.88" r="1.5" fill="#a50d35"/>
<circle cx="120.37" cy="584.97" r="1.5" fill="#a50d35"/>
<circle cx="129.43" cy="585.51" r="1.5" fill="#a50d35"/>
<circle cx="66" cy="612.17" r="1.65" fill="#fff" stroke="#6cb04a" stroke-width="1.25"/>
<circle cx="75.06" cy="612.17" r="1.65" fill="#fff" stroke="#6cb04a" stroke-width="1.25"/>
<circle cx="84.12" cy="612.17" r="1.65" fill="#fff" stroke="#6cb04a" stroke-width="1.25"/>
<circle cx="93.19" cy="612.17" r="1.65" fill="#fff" stroke="#6cb04a" stroke-width="1.25"/>
<circle cx="102.25" cy="612.17" r="1.65" fill="#fff" stroke="#6cb04a" stroke-width="1.25"/>
<circle cx="111.31" cy="610.54" r="1.65" fill="#fff" stroke="#6cb04a" stroke-width="1.25"/>
<circle cx="120.37" cy="595.3" r="1.65" fill="#fff" stroke="#6cb04a" stroke-width="1.25"/>
<circle cx="129.43" cy="596.94" r="1.65" fill="#fff" stroke="#6cb04a" stroke-width="1.25"/>
<path d="M66,610.27L67.8,613.37H64.2Z" fill="#35589a"/>
<path d="M75.06,610.27L76.86,613.37H73.27Z" fill="#35589a"/>
<path d="M84.12,610.27L85.92,613.37H82.33Z" fill="#35589a"/>
<path d="M93.19,610.27L94.98,613.37H91.39Z" fill="#35589a"/>
<path d="M102.25,610.27L104.05,613.37H100.45Z" fill="#35589a"/>
<path d="M111.31,610.27L113.11,613.37H109.51Z" fill="#35589a"/>
<path d="M120.37,610.27L122.17,613.37H118.57Z" fill="#35589a"/>
<path d="M129.43,610.27L131.23,613.37H127.63Z" fill="#35589a"/>
<text transform="translate(246.8,550.6) scale(0.86,1)" font-size="7.7" text-anchor="middle" font-family="Liberation Sans, sans-serif">OCI-AML3</text>
<text transform="translate(175,592.64) rotate(-90)" x="0" y="0" font-size="10.1" font-weight="bold" text-anchor="middle" textLength="23.2" lengthAdjust="spacingAndGlyphs" font-family="Liberation Sans, sans-serif">% CD25</text>
<text transform="translate(170.5,578.14) rotate(-90)" x="0" y="0" font-size="6" font-weight="bold" text-anchor="middle" font-family="Liberation Sans, sans-serif">+</text>
<line x1="200.1" y1="613.8" x2="293.7" y2="613.8" stroke="#444" stroke-width="1.0" stroke-dasharray="0.6,0.6"/>
<path d="M200.1,556.4V628.28M199.5,624.68H293.7" stroke="#000" stroke-width="1.3" fill="none"/>
<text x="193.9" y="627.08" font-size="7" letter-spacing="0.45" text-anchor="end" stroke="#000" stroke-width="0.03" font-family="Liberation Sans, sans-serif">-20</text>
<text x="193.9" y="616.2" font-size="7" letter-spacing="0.45" text-anchor="end" stroke="#000" stroke-width="0.03" font-family="Liberation Sans, sans-serif">0</text>
<text x="193.9" y="605.32" font-size="7" letter-spacing="0.45" text-anchor="end" stroke="#000" stroke-width="0.03" font-family="Liberation Sans, sans-serif">20</text>
<text x="193.9" y="594.44" font-size="7" letter-spacing="0.45" text-anchor="end" stroke="#000" stroke-width="0.03" font-family="Liberation Sans, sans-serif">40</text>
<text x="193.9" y="583.56" font-size="7" letter-spacing="0.45" text-anchor="end" stroke="#000" stroke-width="0.03" font-family="Liberation Sans, sans-serif">60</text>
<text x="193.9" y="572.68" font-size="7" letter-spacing="0.45" text-anchor="end" stroke="#000" stroke-width="0.03" font-family="Liberation Sans, sans-serif">80</text>
<text x="193.9" y="561.8" font-size="7" letter-spacing="0.45" text-anchor="end" stroke="#000" stroke-width="0.03" font-family="Liberation Sans, sans-serif">100</text>
<path d="M196.9,624.68H200.1M198.3,619.24H200.1M196.9,613.8H200.1M198.3,608.36H200.1M196.9,602.92H200.1M198.3,597.48H200.1M196.9,592.04H200.1M198.3,586.6H200.1M196.9,581.16H200.1M198.3,575.72H200.1M196.9,570.28H200.1M198.3,564.84H200.1M196.9,559.4H200.1M200.1,624.68V628.28M205.6,624.68V626.28M207.53,624.68V626.28M209.46,624.68V626.28M211.39,624.68V626.28M213.32,624.68V626.28M215.25,624.68V626.28M218.22,624.68V628.28M223.72,624.68V626.28M225.65,624.68V626.28M227.58,624.68V626.28M229.51,624.68V626.28M231.44,624.68V626.28M233.37,624.68V626.28M236.34,624.68V628.28M241.84,624.68V626.28M243.77,624.68V626.28M245.7,624.68V626.28M247.63,624.68V626.28M249.56,624.68V626.28M251.49,624.68V626.28M254.46,624.68V628.28M259.96,624.68V626.28M261.89,624.68V626.28M263.82,624.68V626.28M265.75,624.68V626.28M267.68,624.68V626.28M269.61,624.68V626.28M272.58,624.68V628.28M278.08,624.68V626.28M280.01,624.68V626.28M281.94,624.68V626.28M283.87,624.68V626.28M285.8,624.68V626.28M287.73,624.68V626.28M290.7,624.68V628.28" stroke="#000" stroke-width="0.9" fill="none"/>
<text transform="translate(203,635.58) rotate(-45)" font-size="7.1" text-anchor="end" stroke="#000" stroke-width="0.05" font-family="Liberation Sans, sans-serif">0.000001</text>
<text transform="translate(221.12,635.58) rotate(-45)" font-size="7.1" text-anchor="end" stroke="#000" stroke-width="0.05" font-family="Liberation Sans, sans-serif">0.0001</text>
<text transform="translate(239.24,635.58) rotate(-45)" font-size="7.1" text-anchor="end" stroke="#000" stroke-width="0.05" font-family="Liberation Sans, sans-serif">0.01</text>
<text transform="translate(257.36,635.58) rotate(-45)" font-size="7.1" text-anchor="end" stroke="#000" stroke-width="0.05" font-family="Liberation Sans, sans-serif">1</text>
<text transform="translate(275.48,635.58) rotate(-45)" font-size="7.1" text-anchor="end" stroke="#000" stroke-width="0.05" font-family="Liberation Sans, sans-serif">100</text>
<text transform="translate(293.6,635.58) rotate(-45)" font-size="7.1" text-anchor="end" stroke="#000" stroke-width="0.05" font-family="Liberation Sans, sans-serif">10000</text>
<text x="247" y="669.98" font-size="10" text-anchor="middle" textLength="56.4" lengthAdjust="spacingAndGlyphs" stroke="#000" stroke-width="0.2" font-family="Liberation Sans, sans-serif">Concentration (nM)</text>
<polyline points="215.95,612.17 216.48,612.17 217.01,612.17 217.54,612.17 218.07,612.17 218.6,612.17 219.13,612.17 219.65,612.17 220.18,612.17 220.71,612.17 221.24,612.17 221.77,612.17 222.3,612.16 222.83,612.16 223.35,612.16 223.88,612.16 224.41,612.16 224.94,612.16 225.47,612.16 226,612.15 226.53,612.15 227.05,612.15 227.58,612.14 228.11,612.13 228.64,612.13 229.17,612.12 229.7,612.1 230.22,612.09 230.75,612.07 231.28,612.05 231.81,612.02 232.34,611.98 232.87,611.94 233.4,611.88 233.92,611.82 234.45,611.73 234.98,611.63 235.51,611.51 236.04,611.36 236.57,611.18 237.09,610.95 237.62,610.69 238.15,610.37 238.68,609.99 239.21,609.54 239.74,609.02 240.27,608.42 240.79,607.74 241.32,606.98 241.85,606.15 242.38,605.25 242.91,604.31 243.44,603.34 243.97,602.36 244.49,601.4 245.02,600.47 245.55,599.6 246.08,598.8 246.61,598.07 247.14,597.43 247.66,596.86 248.19,596.37 248.72,595.95 249.25,595.6 249.78,595.3 250.31,595.06 250.84,594.85 251.36,594.68 251.89,594.55 252.42,594.43 252.95,594.34 253.48,594.26 254.01,594.2 254.54,594.15 255.06,594.11 255.59,594.08 256.12,594.05 256.65,594.03 257.18,594.02 257.71,594 258.24,593.99 258.76,593.98 259.29,593.97 259.82,593.97 260.35,593.96 260.88,593.96 261.41,593.96 261.93,593.95 262.46,593.95 262.99,593.95 263.52,593.95 264.05,593.95 264.58,593.95 265.11,593.95 265.63,593.95 266.16,593.95 266.69,593.95 267.22,593.95 267.75,593.94 268.28,593.94 268.81,593.94 269.33,593.94 269.86,593.94 270.39,593.94 270.92,593.94 271.45,593.94 271.98,593.94 272.5,593.94 273.03,593.94 273.56,593.94 274.09,593.94 274.62,593.94 275.15,593.94 275.68,593.94 276.2,593.94 276.73,593.94 277.26,593.94 277.79,593.94 278.32,593.94 278.85,593.94 279.38,593.94" stroke="#a50d35" stroke-width="1.25" fill="none"/>
<path d="M243.13,601.29V603.46M241.83,601.29H244.44M241.83,603.46H244.44" stroke="#a50d35" stroke-width="0.9" fill="none"/>
<path d="M252.19,592.04V597.48M250.89,592.04H253.5M250.89,597.48H253.5" stroke="#a50d35" stroke-width="0.9" fill="none"/>
<path d="M261.25,588.78V597.48M259.95,588.78H262.56M259.95,597.48H262.56" stroke="#a50d35" stroke-width="0.9" fill="none"/>
<path d="M270.31,590.41V596.94M269.01,590.41H271.62M269.01,596.94H271.62" stroke="#a50d35" stroke-width="0.9" fill="none"/>
<path d="M279.38,591.5V596.94M278.07,591.5H280.68M278.07,596.94H280.68" stroke="#a50d35" stroke-width="0.9" fill="none"/>
<polyline points="215.95,612.17 216.48,612.17 217.01,612.17 217.54,612.17 218.07,612.17 218.6,612.17 219.13,612.17 219.65,612.17 220.18,612.17 220.71,612.17 221.24,612.17 221.77,612.17 222.3,612.17 222.83,612.17 223.35,612.17 223.88,612.17 224.41,612.17 224.94,612.17 225.47,612.17 226,612.17 226.53,612.17 227.05,612.17 227.58,612.17 228.11,612.17 228.64,612.17 229.17,612.17 229.7,612.17 230.22,612.17 230.75,612.17 231.28,612.17 231.81,612.17 232.34,612.17 232.87,612.17 233.4,612.17 233.92,612.17 234.45,612.17 234.98,612.17 235.51,612.17 236.04,612.17 236.57,612.17 237.09,612.17 237.62,612.17 238.15,612.17 238.68,612.17 239.21,612.17 239.74,612.17 240.27,612.17 240.79,612.17 241.32,612.17 241.85,612.17 242.38,612.17 242.91,612.17 243.44,612.17 243.97,612.17 244.49,612.17 245.02,612.17 245.55,612.17 246.08,612.17 246.61,612.17 247.14,612.17 247.66,612.17 248.19,612.17 248.72,612.17 249.25,612.17 249.78,612.17 250.31,612.17 250.84,612.17 251.36,612.17 251.89,612.17 252.42,612.17 252.95,612.17 253.48,612.17 254.01,612.17 254.54,612.17 255.06,612.17 255.59,612.17 256.12,612.17 256.65,612.17 257.18,612.17 257.71,612.17 258.24,612.17 258.76,612.17 259.29,612.17 259.82,612.17 260.35,612.17 260.88,612.17 261.41,612.17 261.93,612.17 262.46,612.17 262.99,612.17 263.52,612.17 264.05,612.17 264.58,612.17 265.11,612.17 265.63,612.17 266.16,612.17 266.69,612.17 267.22,612.17 267.75,612.17 268.28,612.17 268.81,612.17 269.33,612.17 269.86,612.17 270.39,612.17 270.92,612.17 271.45,612.17 271.98,612.17 272.5,612.17 273.03,612.17 273.56,612.17 274.09,612.17 274.62,612.17 275.15,612.17 275.68,612.17 276.2,612.17 276.73,612.17 277.26,612.17 277.79,612.17 278.32,612.17 278.85,612.17 279.38,612.17" stroke="#35589a" stroke-width="1.25" fill="none"/>
<polyline points="215.95,612.17 216.48,612.17 217.01,612.17 217.54,612.17 218.07,612.17 218.6,612.17 219.13,612.17 219.65,612.17 220.18,612.17 220.71,612.17 221.24,612.17 221.77,612.17 222.3,612.17 222.83,612.17 223.35,612.17 223.88,612.17 224.41,612.17 224.94,612.17 225.47,612.17 226,612.17 226.53,612.17 227.05,612.17 227.58,612.17 228.11,612.17 228.64,612.17 229.17,612.17 229.7,612.17 230.22,612.17 230.75,612.17 231.28,612.17 231.81,612.17 232.34,612.17 232.87,612.17 233.4,612.17 233.92,612.17 234.45,612.17 234.98,612.17 235.51,612.17 236.04,612.17 236.57,612.17 237.09,612.17 237.62,612.17 238.15,612.17 238.68,612.17 239.21,612.17 239.74,612.17 240.27,612.17 240.79,612.17 241.32,612.17 241.85,612.17 242.38,612.17 242.91,612.17 243.44,612.17 243.97,612.17 244.49,612.17 245.02,612.17 245.55,612.17 246.08,612.17 246.61,612.17 247.14,612.17 247.66,612.17 248.19,612.17 248.72,612.17 249.25,612.17 249.78,612.17 250.31,612.17 250.84,612.17 251.36,612.17 251.89,612.17 252.42,612.17 252.95,612.17 253.48,612.17 254.01,612.17 254.54,612.17 255.06,612.17 255.59,612.17 256.12,612.17 256.65,612.17 257.18,612.17 257.71,612.17 258.24,612.17 258.76,612.16 259.29,612.16 259.82,612.14 260.35,612.12 260.88,612.05 261.41,611.91 261.93,611.6 262.46,610.96 262.99,609.73 263.52,607.72 264.05,605.12 264.58,602.64 265.11,600.85 265.63,599.82 266.16,599.3 266.69,599.05 267.22,598.93 267.75,598.88 268.28,598.86 268.81,598.85 269.33,598.84 269.86,598.84 270.39,598.84 270.92,598.84 271.45,598.84 271.98,598.84 272.5,598.84 273.03,598.84 273.56,598.84 274.09,598.84 274.62,598.84 275.15,598.84 275.68,598.84 276.2,598.84 276.73,598.84 277.26,598.84 277.79,598.84 278.32,598.84 278.85,598.84 279.38,598.84" stroke="#6cb04a" stroke-width="1.25" fill="none"/>
<path d="M261.25,609.99V612.17M259.95,609.99H262.56M259.95,612.17H262.56" stroke="#6cb04a" stroke-width="0.9" fill="none"/>
<path d="M270.31,595.85V602.38M269.01,595.85H271.62M269.01,602.38H271.62" stroke="#6cb04a" stroke-width="0.9" fill="none"/>
<path d="M279.38,595.3V604.01M278.07,595.3H280.68M278.07,604.01H280.68" stroke="#6cb04a" stroke-width="0.9" fill="none"/>
<circle cx="215.95" cy="612.17" r="1.5" fill="#a50d35"/>
<circle cx="225.01" cy="612.17" r="1.5" fill="#a50d35"/>
<circle cx="234.07" cy="612.17" r="1.5" fill="#a50d35"/>
<circle cx="243.13" cy="602.38" r="1.5" fill="#a50d35"/>
<circle cx="252.19" cy="594.76" r="1.5" fill="#a50d35"/>
<circle cx="261.25" cy="593.13" r="1.5" fill="#a50d35"/>
<circle cx="270.31" cy="593.67" r="1.5" fill="#a50d35"/>
<circle cx="279.38" cy="594.22" r="1.5" fill="#a50d35"/>
<circle cx="215.95" cy="612.17" r="1.65" fill="#fff" stroke="#6cb04a" stroke-width="1.25"/>
<circle cx="225.01" cy="612.17" r="1.65" fill="#fff" stroke="#6cb04a" stroke-width="1.25"/>
<circle cx="234.07" cy="612.17" r="1.65" fill="#fff" stroke="#6cb04a" stroke-width="1.25"/>
<circle cx="243.13" cy="612.17" r="1.65" fill="#fff" stroke="#6cb04a" stroke-width="1.25"/>
<circle cx="252.19" cy="612.17" r="1.65" fill="#fff" stroke="#6cb04a" stroke-width="1.25"/>
<circle cx="261.25" cy="611.08" r="1.65" fill="#fff" stroke="#6cb04a" stroke-width="1.25"/>
<circle cx="270.31" cy="599.11" r="1.65" fill="#fff" stroke="#6cb04a" stroke-width="1.25"/>
<circle cx="279.38" cy="599.66" r="1.65" fill="#fff" stroke="#6cb04a" stroke-width="1.25"/>
<path d="M215.95,610.27L217.75,613.37H214.15Z" fill="#35589a"/>
<path d="M225.01,610.27L226.81,613.37H223.21Z" fill="#35589a"/>
<path d="M234.07,610.27L235.88,613.37H232.27Z" fill="#35589a"/>
<path d="M243.13,610.27L244.94,613.37H241.33Z" fill="#35589a"/>
<path d="M252.19,610.27L254,613.37H250.39Z" fill="#35589a"/>
<path d="M261.25,610.27L263.06,613.37H259.45Z" fill="#35589a"/>
<path d="M270.31,610.27L272.12,613.37H268.51Z" fill="#35589a"/>
<path d="M279.38,610.27L281.18,613.37H277.57Z" fill="#35589a"/>
<text transform="translate(397.1,550.6) scale(0.86,1)" font-size="7.7" text-anchor="middle" font-family="Liberation Sans, sans-serif">CARNAVAL</text>
<text transform="translate(325.3,592.64) rotate(-90)" x="0" y="0" font-size="10.1" font-weight="bold" text-anchor="middle" textLength="23.2" lengthAdjust="spacingAndGlyphs" font-family="Liberation Sans, sans-serif">% CD25</text>
<text transform="translate(320.8,578.14) rotate(-90)" x="0" y="0" font-size="6" font-weight="bold" text-anchor="middle" font-family="Liberation Sans, sans-serif">+</text>
<line x1="350.4" y1="613.8" x2="444" y2="613.8" stroke="#444" stroke-width="1.0" stroke-dasharray="0.6,0.6"/>
<path d="M350.4,556.4V628.28M349.8,624.68H444" stroke="#000" stroke-width="1.3" fill="none"/>
<text x="344.2" y="627.08" font-size="7" letter-spacing="0.45" text-anchor="end" stroke="#000" stroke-width="0.03" font-family="Liberation Sans, sans-serif">-20</text>
<text x="344.2" y="616.2" font-size="7" letter-spacing="0.45" text-anchor="end" stroke="#000" stroke-width="0.03" font-family="Liberation Sans, sans-serif">0</text>
<text x="344.2" y="605.32" font-size="7" letter-spacing="0.45" text-anchor="end" stroke="#000" stroke-width="0.03" font-family="Liberation Sans, sans-serif">20</text>
<text x="344.2" y="594.44" font-size="7" letter-spacing="0.45" text-anchor="end" stroke="#000" stroke-width="0.03" font-family="Liberation Sans, sans-serif">40</text>
<text x="344.2" y="583.56" font-size="7" letter-spacing="0.45" text-anchor="end" stroke="#000" stroke-width="0.03" font-family="Liberation Sans, sans-serif">60</text>
<text x="344.2" y="572.68" font-size="7" letter-spacing="0.45" text-anchor="end" stroke="#000" stroke-width="0.03" font-family="Liberation Sans, sans-serif">80</text>
<text x="344.2" y="561.8" font-size="7" letter-spacing="0.45" text-anchor="end" stroke="#000" stroke-width="0.03" font-family="Liberation Sans, sans-serif">100</text>
<path d="M347.2,624.68H350.4M348.6,619.24H350.4M347.2,613.8H350.4M348.6,608.36H350.4M347.2,602.92H350.4M348.6,597.48H350.4M347.2,592.04H350.4M348.6,586.6H350.4M347.2,581.16H350.4M348.6,575.72H350.4M347.2,570.28H350.4M348.6,564.84H350.4M347.2,559.4H350.4M350.4,624.68V628.28M355.9,624.68V626.28M357.83,624.68V626.28M359.76,624.68V626.28M361.69,624.68V626.28M363.62,624.68V626.28M365.55,624.68V626.28M368.52,624.68V628.28M374.02,624.68V626.28M375.95,624.68V626.28M377.88,624.68V626.28M379.81,624.68V626.28M381.74,624.68V626.28M383.67,624.68V626.28M386.64,624.68V628.28M392.14,624.68V626.28M394.07,624.68V626.28M396,624.68V626.28M397.93,624.68V626.28M399.86,624.68V626.28M401.79,624.68V626.28M404.76,624.68V628.28M410.26,624.68V626.28M412.19,624.68V626.28M414.12,624.68V626.28M416.05,624.68V626.28M417.98,624.68V626.28M419.91,624.68V626.28M422.88,624.68V628.28M428.38,624.68V626.28M430.31,624.68V626.28M432.24,624.68V626.28M434.17,624.68V626.28M436.1,624.68V626.28M438.03,624.68V626.28M441,624.68V628.28" stroke="#000" stroke-width="0.9" fill="none"/>
<text transform="translate(353.3,635.58) rotate(-45)" font-size="7.1" text-anchor="end" stroke="#000" stroke-width="0.05" font-family="Liberation Sans, sans-serif">0.000001</text>
<text transform="translate(371.42,635.58) rotate(-45)" font-size="7.1" text-anchor="end" stroke="#000" stroke-width="0.05" font-family="Liberation Sans, sans-serif">0.0001</text>
<text transform="translate(389.54,635.58) rotate(-45)" font-size="7.1" text-anchor="end" stroke="#000" stroke-width="0.05" font-family="Liberation Sans, sans-serif">0.01</text>
<text transform="translate(407.66,635.58) rotate(-45)" font-size="7.1" text-anchor="end" stroke="#000" stroke-width="0.05" font-family="Liberation Sans, sans-serif">1</text>
<text transform="translate(425.78,635.58) rotate(-45)" font-size="7.1" text-anchor="end" stroke="#000" stroke-width="0.05" font-family="Liberation Sans, sans-serif">100</text>
<text transform="translate(443.9,635.58) rotate(-45)" font-size="7.1" text-anchor="end" stroke="#000" stroke-width="0.05" font-family="Liberation Sans, sans-serif">10000</text>
<text x="397.3" y="669.98" font-size="10" text-anchor="middle" textLength="56.4" lengthAdjust="spacingAndGlyphs" stroke="#000" stroke-width="0.2" font-family="Liberation Sans, sans-serif">Concentration (nM)</text>
<polyline points="366.26,611.62 366.78,611.62 367.31,611.62 367.84,611.62 368.37,611.62 368.9,611.62 369.43,611.62 369.95,611.62 370.48,611.62 371.01,611.62 371.54,611.62 372.07,611.62 372.6,611.62 373.13,611.62 373.65,611.62 374.18,611.62 374.71,611.61 375.24,611.61 375.77,611.61 376.3,611.6 376.83,611.59 377.35,611.58 377.88,611.57 378.41,611.55 378.94,611.53 379.47,611.51 380,611.47 380.52,611.43 381.05,611.38 381.58,611.32 382.11,611.24 382.64,611.15 383.17,611.05 383.7,610.94 384.22,610.82 384.75,610.69 385.28,610.56 385.81,610.44 386.34,610.32 386.87,610.22 387.4,610.13 387.92,610.05 388.45,609.98 388.98,609.93 389.51,609.88 390.04,609.85 390.57,609.82 391.09,609.8 391.62,609.78 392.15,609.76 392.68,609.75 393.21,609.75 393.74,609.74 394.27,609.74 394.79,609.73 395.32,609.73 395.85,609.73 396.38,609.73 396.91,609.72 397.44,609.72 397.97,609.72 398.49,609.72 399.02,609.72 399.55,609.72 400.08,609.72 400.61,609.72 401.14,609.72 401.66,609.72 402.19,609.72 402.72,609.72 403.25,609.72 403.78,609.72 404.31,609.72 404.84,609.72 405.36,609.72 405.89,609.72 406.42,609.72 406.95,609.72 407.48,609.72 408.01,609.72 408.54,609.72 409.06,609.72 409.59,609.72 410.12,609.72 410.65,609.72 411.18,609.72 411.71,609.72 412.23,609.72 412.76,609.72 413.29,609.72 413.82,609.72 414.35,609.72 414.88,609.72 415.41,609.72 415.93,609.72 416.46,609.72 416.99,609.72 417.52,609.72 418.05,609.72 418.58,609.72 419.11,609.72 419.63,609.72 420.16,609.72 420.69,609.72 421.22,609.72 421.75,609.72 422.28,609.72 422.8,609.72 423.33,609.72 423.86,609.72 424.39,609.72 424.92,609.72 425.45,609.72 425.98,609.72 426.5,609.72 427.03,609.72 427.56,609.72 428.09,609.72 428.62,609.72 429.15,609.72 429.68,609.72" stroke="#a50d35" stroke-width="1.25" fill="none"/>
<path d="M366.26,610.54V612.71M364.96,610.54H367.56M364.96,612.71H367.56" stroke="#a50d35" stroke-width="0.9" fill="none"/>
<path d="M375.32,610.54V612.71M374.02,610.54H376.62M374.02,612.71H376.62" stroke="#a50d35" stroke-width="0.9" fill="none"/>
<path d="M384.38,610.54V612.71M383.08,610.54H385.68M383.08,612.71H385.68" stroke="#a50d35" stroke-width="0.9" fill="none"/>
<path d="M393.44,608.36V610.54M392.14,608.36H394.74M392.14,610.54H394.74" stroke="#a50d35" stroke-width="0.9" fill="none"/>
<path d="M402.5,608.36V610.54M401.2,608.36H403.8M401.2,610.54H403.8" stroke="#a50d35" stroke-width="0.9" fill="none"/>
<path d="M411.56,608.9V611.08M410.26,608.9H412.86M410.26,611.08H412.86" stroke="#a50d35" stroke-width="0.9" fill="none"/>
<path d="M420.62,608.9V611.08M419.31,608.9H421.92M419.31,611.08H421.92" stroke="#a50d35" stroke-width="0.9" fill="none"/>
<path d="M429.68,608.9V611.08M428.38,608.9H430.98M428.38,611.08H430.98" stroke="#a50d35" stroke-width="0.9" fill="none"/>
<polyline points="366.26,611.35 366.78,611.35 367.31,611.35 367.84,611.35 368.37,611.35 368.9,611.35 369.43,611.35 369.95,611.35 370.48,611.35 371.01,611.35 371.54,611.35 372.07,611.35 372.6,611.35 373.13,611.35 373.65,611.35 374.18,611.35 374.71,611.35 375.24,611.35 375.77,611.35 376.3,611.35 376.83,611.35 377.35,611.35 377.88,611.35 378.41,611.35 378.94,611.35 379.47,611.35 380,611.35 380.52,611.35 381.05,611.35 381.58,611.35 382.11,611.35 382.64,611.35 383.17,611.35 383.7,611.35 384.22,611.35 384.75,611.35 385.28,611.35 385.81,611.35 386.34,611.35 386.87,611.35 387.4,611.35 387.92,611.35 388.45,611.35 388.98,611.35 389.51,611.35 390.04,611.35 390.57,611.35 391.09,611.35 391.62,611.35 392.15,611.35 392.68,611.35 393.21,611.35 393.74,611.35 394.27,611.35 394.79,611.35 395.32,611.35 395.85,611.35 396.38,611.35 396.91,611.35 397.44,611.35 397.97,611.35 398.49,611.35 399.02,611.35 399.55,611.35 400.08,611.35 400.61,611.35 401.14,611.35 401.66,611.35 402.19,611.35 402.72,611.35 403.25,611.35 403.78,611.35 404.31,611.35 404.84,611.35 405.36,611.35 405.89,611.35 406.42,611.35 406.95,611.35 407.48,611.35 408.01,611.35 408.54,611.34 409.06,611.31 409.59,611.23 410.12,611 410.65,610.37 411.18,608.76 411.71,605.53 412.23,601.18 412.76,597.7 413.29,595.9 413.82,595.17 414.35,594.9 414.88,594.81 415.41,594.78 415.93,594.77 416.46,594.76 416.99,594.76 417.52,594.76 418.05,594.76 418.58,594.76 419.11,594.76 419.63,594.76 420.16,594.76 420.69,594.76 421.22,594.76 421.75,594.76 422.28,594.76 422.8,594.76 423.33,594.76 423.86,594.76 424.39,594.76 424.92,594.76 425.45,594.76 425.98,594.76 426.5,594.76 427.03,594.76 427.56,594.76 428.09,594.76 428.62,594.76 429.15,594.76 429.68,594.76" stroke="#6cb04a" stroke-width="1.25" fill="none"/>
<path d="M411.56,605.1V608.36M410.26,605.1H412.86M410.26,608.36H412.86" stroke="#6cb04a" stroke-width="0.9" fill="none"/>
<path d="M420.62,588.78V595.3M419.31,588.78H421.92M419.31,595.3H421.92" stroke="#6cb04a" stroke-width="0.9" fill="none"/>
<path d="M429.68,593.67V601.29M428.38,593.67H430.98M428.38,601.29H430.98" stroke="#6cb04a" stroke-width="0.9" fill="none"/>
<circle cx="366.26" cy="611.62" r="1.5" fill="#a50d35"/>
<circle cx="375.32" cy="611.62" r="1.5" fill="#a50d35"/>
<circle cx="384.38" cy="611.62" r="1.5" fill="#a50d35"/>
<circle cx="393.44" cy="609.45" r="1.5" fill="#a50d35"/>
<circle cx="402.5" cy="609.45" r="1.5" fill="#a50d35"/>
<circle cx="411.56" cy="609.99" r="1.5" fill="#a50d35"/>
<circle cx="420.62" cy="609.99" r="1.5" fill="#a50d35"/>
<circle cx="429.68" cy="609.99" r="1.5" fill="#a50d35"/>
<circle cx="366.26" cy="611.62" r="1.65" fill="#fff" stroke="#6cb04a" stroke-width="1.25"/>
<circle cx="375.32" cy="611.62" r="1.65" fill="#fff" stroke="#6cb04a" stroke-width="1.25"/>
<circle cx="384.38" cy="611.62" r="1.65" fill="#fff" stroke="#6cb04a" stroke-width="1.25"/>
<circle cx="393.44" cy="611.08" r="1.65" fill="#fff" stroke="#6cb04a" stroke-width="1.25"/>
<circle cx="402.5" cy="611.08" r="1.65" fill="#fff" stroke="#6cb04a" stroke-width="1.25"/>
<circle cx="411.56" cy="606.73" r="1.65" fill="#fff" stroke="#6cb04a" stroke-width="1.25"/>
<circle cx="420.62" cy="592.04" r="1.65" fill="#fff" stroke="#6cb04a" stroke-width="1.25"/>
<circle cx="429.68" cy="597.48" r="1.65" fill="#fff" stroke="#6cb04a" stroke-width="1.25"/>
<path d="M366.26,610.27L368.06,613.37H364.46Z" fill="#35589a"/>
<path d="M375.32,610.27L377.12,613.37H373.52Z" fill="#35589a"/>
<path d="M384.38,610.27L386.18,613.37H382.58Z" fill="#35589a"/>
<path d="M393.44,610.27L395.24,613.37H391.64Z" fill="#35589a"/>
<path d="M402.5,610.27L404.3,613.37H400.7Z" fill="#35589a"/>
<path d="M411.56,610.81L413.36,613.91H409.76Z" fill="#35589a"/>
<path d="M420.62,610.81L422.42,613.91H418.81Z" fill="#35589a"/>
<path d="M429.68,610.81L431.48,613.91H427.88Z" fill="#35589a"/>
<line x1="54.1" y1="25.2" x2="291.3" y2="25.2" stroke="#222" stroke-width="1.1"/>
<line x1="351.5" y1="25.2" x2="446.6" y2="25.2" stroke="#222" stroke-width="1.1"/>
<line x1="51.3" y1="402.9" x2="280" y2="402.9" stroke="#4a4a4a" stroke-width="1.4"/>
<line x1="348.5" y1="402.9" x2="443.2" y2="402.9" stroke="#4a4a4a" stroke-width="1.4"/>
<text x="155.4" y="19.6" font-size="10.3" textLength="25.3" lengthAdjust="spacingAndGlyphs" font-family="Liberation Sans, sans-serif">CD33</text>
<text x="183.6" y="16.3" font-size="7.6" text-anchor="middle" stroke="#000" stroke-width="0.2" font-family="Liberation Sans, sans-serif">+</text>
<text x="384.9" y="19.5" font-size="10.3" textLength="25.3" lengthAdjust="spacingAndGlyphs" font-family="Liberation Sans, sans-serif">CD33</text>
<rect x="410.7" y="13.15" width="1.6" height="0.7" fill="#333"/>
<text x="150.5" y="397.2" font-size="9.9" textLength="25.3" lengthAdjust="spacingAndGlyphs" font-family="Liberation Sans, sans-serif">CD33</text>
<text x="177.4" y="393.9" font-size="7.6" text-anchor="middle" stroke="#000" stroke-width="0.2" font-family="Liberation Sans, sans-serif">+</text>
<text x="381.7" y="397.5" font-size="9.9" textLength="25.3" lengthAdjust="spacingAndGlyphs" font-family="Liberation Sans, sans-serif">CD33</text>
<rect x="407.9" y="391.15" width="1.6" height="0.7" fill="#333"/>
<line x1="453" y1="43.8" x2="463" y2="43.8" stroke="#a50d35" stroke-width="1.3"/>
<circle cx="458" cy="43.8" r="1.8" fill="#a50d35"/>
<text x="466.5" y="46.3" font-size="7" font-family="Liberation Sans, sans-serif">JNJ-67571244</text>
<line x1="453" y1="54.9" x2="463" y2="54.9" stroke="#6cb04a" stroke-width="1.3"/>
<circle cx="458" cy="54.9" r="1.9" fill="#fff" stroke="#6cb04a" stroke-width="1.6"/>
<text x="466.5" y="57.4" font-size="7" font-family="Liberation Sans, sans-serif">nullxCD3</text>
<line x1="453" y1="66.6" x2="463" y2="66.6" stroke="#35589a" stroke-width="1.3"/>
<path d="M458,64.3L460.2,67.9H455.8Z" fill="#35589a"/>
<text x="466.5" y="69.1" font-size="7" font-family="Liberation Sans, sans-serif">CD33xnull</text>
<line x1="453" y1="417.2" x2="463" y2="417.2" stroke="#a50d35" stroke-width="1.3"/>
<circle cx="458" cy="417.2" r="1.8" fill="#a50d35"/>
<text x="466.5" y="419.7" font-size="7" font-family="Liberation Sans, sans-serif">JNJ-67571244</text>
<line x1="453" y1="428.5" x2="463" y2="428.5" stroke="#6cb04a" stroke-width="1.3"/>
<circle cx="458" cy="428.5" r="1.9" fill="#fff" stroke="#6cb04a" stroke-width="1.6"/>
<text x="466.5" y="431" font-size="7" font-family="Liberation Sans, sans-serif">nullxCD3</text>
<line x1="453" y1="440.0" x2="463" y2="440.0" stroke="#35589a" stroke-width="1.3"/>
<path d="M458,437.7L460.2,441.3H455.8Z" fill="#35589a"/>
<text x="466.5" y="442.5" font-size="7" font-family="Liberation Sans, sans-serif">CD33xnull</text>
<text x="8.1" y="18.5" font-size="12.7" font-weight="bold" stroke="#000" stroke-width="0.75" stroke-linejoin="round" font-family="Liberation Sans, sans-serif">A</text>
<text x="8.1" y="315.5" font-size="12.7" font-weight="bold" stroke="#000" stroke-width="0.75" stroke-linejoin="round" font-family="Liberation Sans, sans-serif">B</text>
<text x="8.1" y="396.6" font-size="12.7" font-weight="bold" stroke="#000" stroke-width="0.75" stroke-linejoin="round" font-family="Liberation Sans, sans-serif">C</text>
<text x="8.1" y="696.5" font-size="12.7" font-weight="bold" stroke="#000" stroke-width="0.75" stroke-linejoin="round" font-family="Liberation Sans, sans-serif">D</text>
<path d="M48.7,304.4H284.1M48.7,334.6H284.1M48.7,371.7H284.1" stroke="#333" stroke-width="1.1" fill="none"/>
<text x="72.4" y="313.1" font-size="7" font-weight="bold" text-anchor="middle" font-family="Liberation Sans, sans-serif">Effective</text>
<text x="72.4" y="321.8" font-size="7" font-weight="bold" text-anchor="middle" font-family="Liberation Sans, sans-serif">concentration</text>
<text x="72.4" y="330.3" font-size="7" font-weight="bold" text-anchor="middle" font-family="Liberation Sans, sans-serif">(nM)</text>
<text x="131.0" y="313.1" font-size="7.3" font-weight="bold" text-anchor="middle" font-family="Liberation Sans, sans-serif">MOLM-13</text>
<text x="176.7" y="313.1" font-size="7.3" font-weight="bold" text-anchor="middle" font-family="Liberation Sans, sans-serif">KG-1</text>
<text x="215.4" y="313.1" font-size="7.3" font-weight="bold" text-anchor="middle" font-family="Liberation Sans, sans-serif">Kasumi-1</text>
<text x="260.5" y="313.1" font-size="7.3" font-weight="bold" text-anchor="middle" font-family="Liberation Sans, sans-serif">OCI-AML3</text>
<text x="64.9" y="344.4" font-size="7" fill="#111" stroke="#111" stroke-width="0.12" font-family="Liberation Sans, sans-serif">EC<tspan font-size="4.6" dy="1.6">20</tspan></text>
<text x="131.0" y="344.4" font-size="7.2" fill="#111" stroke="#111" stroke-width="0.12" text-anchor="middle" font-family="Liberation Sans, sans-serif">0.0283</text>
<text x="176.7" y="344.4" font-size="7.2" fill="#111" stroke="#111" stroke-width="0.12" text-anchor="middle" font-family="Liberation Sans, sans-serif">0.0525</text>
<text x="215.4" y="344.4" font-size="7.2" fill="#111" stroke="#111" stroke-width="0.12" text-anchor="middle" font-family="Liberation Sans, sans-serif">0.0366</text>
<text x="260.5" y="344.4" font-size="7.2" fill="#111" stroke="#111" stroke-width="0.12" text-anchor="middle" font-family="Liberation Sans, sans-serif">0.0844</text>
<text x="64.9" y="355.6" font-size="7" fill="#111" stroke="#111" stroke-width="0.12" font-family="Liberation Sans, sans-serif">EC<tspan font-size="4.6" dy="1.6">50</tspan></text>
<text x="131.0" y="355.6" font-size="7.2" fill="#111" stroke="#111" stroke-width="0.12" text-anchor="middle" font-family="Liberation Sans, sans-serif">0.1307</text>
<text x="176.7" y="355.6" font-size="7.2" fill="#111" stroke="#111" stroke-width="0.12" text-anchor="middle" font-family="Liberation Sans, sans-serif">0.1677</text>
<text x="215.4" y="355.6" font-size="7.2" fill="#111" stroke="#111" stroke-width="0.12" text-anchor="middle" font-family="Liberation Sans, sans-serif">0.0500</text>
<text x="260.5" y="355.6" font-size="7.2" fill="#111" stroke="#111" stroke-width="0.12" text-anchor="middle" font-family="Liberation Sans, sans-serif">0.1826</text>
<text x="64.9" y="366.9" font-size="7" fill="#111" stroke="#111" stroke-width="0.12" font-family="Liberation Sans, sans-serif">EC<tspan font-size="4.6" dy="1.6">90</tspan></text>
<text x="131.0" y="366.9" font-size="7.2" fill="#111" stroke="#111" stroke-width="0.12" text-anchor="middle" font-family="Liberation Sans, sans-serif">2.2865</text>
<text x="176.7" y="366.9" font-size="7.2" fill="#111" stroke="#111" stroke-width="0.12" text-anchor="middle" font-family="Liberation Sans, sans-serif">1.6978</text>
<text x="215.4" y="366.9" font-size="7.2" fill="#111" stroke="#111" stroke-width="0.12" text-anchor="middle" font-family="Liberation Sans, sans-serif">0.0842</text>
<text x="260.5" y="366.9" font-size="7.2" fill="#111" stroke="#111" stroke-width="0.12" text-anchor="middle" font-family="Liberation Sans, sans-serif">0.6220</text>
<path d="M48.7,685.7H284.1M48.7,715.9H284.1M48.7,753H284.1" stroke="#333" stroke-width="1.1" fill="none"/>
<text x="72.4" y="694.4" font-size="7" font-weight="bold" text-anchor="middle" font-family="Liberation Sans, sans-serif">Effective</text>
<text x="72.4" y="703.1" font-size="7" font-weight="bold" text-anchor="middle" font-family="Liberation Sans, sans-serif">concentration</text>
<text x="72.4" y="711.6" font-size="7" font-weight="bold" text-anchor="middle" font-family="Liberation Sans, sans-serif">(nM)</text>
<text x="131.0" y="694.4" font-size="7.3" font-weight="bold" text-anchor="middle" font-family="Liberation Sans, sans-serif">MOLM-13</text>
<text x="176.7" y="694.4" font-size="7.3" font-weight="bold" text-anchor="middle" font-family="Liberation Sans, sans-serif">KG-1</text>
<text x="215.4" y="694.4" font-size="7.3" font-weight="bold" text-anchor="middle" font-family="Liberation Sans, sans-serif">Kasumi-1</text>
<text x="260.5" y="694.4" font-size="7.3" font-weight="bold" text-anchor="middle" font-family="Liberation Sans, sans-serif">OCI-AML3</text>
<text x="64.9" y="725.7" font-size="7" fill="#111" stroke="#111" stroke-width="0.12" font-family="Liberation Sans, sans-serif">EC<tspan font-size="4.6" dy="1.6">20</tspan></text>
<text x="131.0" y="725.7" font-size="7.2" fill="#111" stroke="#111" stroke-width="0.12" text-anchor="middle" font-family="Liberation Sans, sans-serif">0.0077</text>
<text x="176.7" y="725.7" font-size="7.2" fill="#111" stroke="#111" stroke-width="0.12" text-anchor="middle" font-family="Liberation Sans, sans-serif">0.0256</text>
<text x="215.4" y="725.7" font-size="7.2" fill="#111" stroke="#111" stroke-width="0.12" text-anchor="middle" font-family="Liberation Sans, sans-serif">0.0267</text>
<text x="260.5" y="725.7" font-size="7.2" fill="#111" stroke="#111" stroke-width="0.12" text-anchor="middle" font-family="Liberation Sans, sans-serif">0.0178</text>
<text x="64.9" y="736.9" font-size="7" fill="#111" stroke="#111" stroke-width="0.12" font-family="Liberation Sans, sans-serif">EC<tspan font-size="4.6" dy="1.6">50</tspan></text>
<text x="131.0" y="736.9" font-size="7.2" fill="#111" stroke="#111" stroke-width="0.12" text-anchor="middle" font-family="Liberation Sans, sans-serif">0.0283</text>
<text x="176.7" y="736.9" font-size="7.2" fill="#111" stroke="#111" stroke-width="0.12" text-anchor="middle" font-family="Liberation Sans, sans-serif">0.0664</text>
<text x="215.4" y="736.9" font-size="7.2" fill="#111" stroke="#111" stroke-width="0.12" text-anchor="middle" font-family="Liberation Sans, sans-serif">0.0432</text>
<text x="260.5" y="736.9" font-size="7.2" fill="#111" stroke="#111" stroke-width="0.12" text-anchor="middle" font-family="Liberation Sans, sans-serif">0.0500</text>
<text x="64.9" y="748.2" font-size="7" fill="#111" stroke="#111" stroke-width="0.12" font-family="Liberation Sans, sans-serif">EC<tspan font-size="4.6" dy="1.6">90</tspan></text>
<text x="131.0" y="748.2" font-size="7.2" fill="#111" stroke="#111" stroke-width="0.12" text-anchor="middle" font-family="Liberation Sans, sans-serif">0.1677</text>
<text x="176.7" y="748.2" font-size="7.2" fill="#111" stroke="#111" stroke-width="0.12" text-anchor="middle" font-family="Liberation Sans, sans-serif">0.4236</text>
<text x="215.4" y="748.2" font-size="7.2" fill="#111" stroke="#111" stroke-width="0.12" text-anchor="middle" font-family="Liberation Sans, sans-serif">0.1126</text>
<text x="260.5" y="748.2" font-size="7.2" fill="#111" stroke="#111" stroke-width="0.12" text-anchor="middle" font-family="Liberation Sans, sans-serif">0.2585</text>
<rect x="0.6" y="0.6" width="518.8" height="759.8" fill="none" stroke="#000" stroke-width="1.6"/>
</svg>
</body></html>
